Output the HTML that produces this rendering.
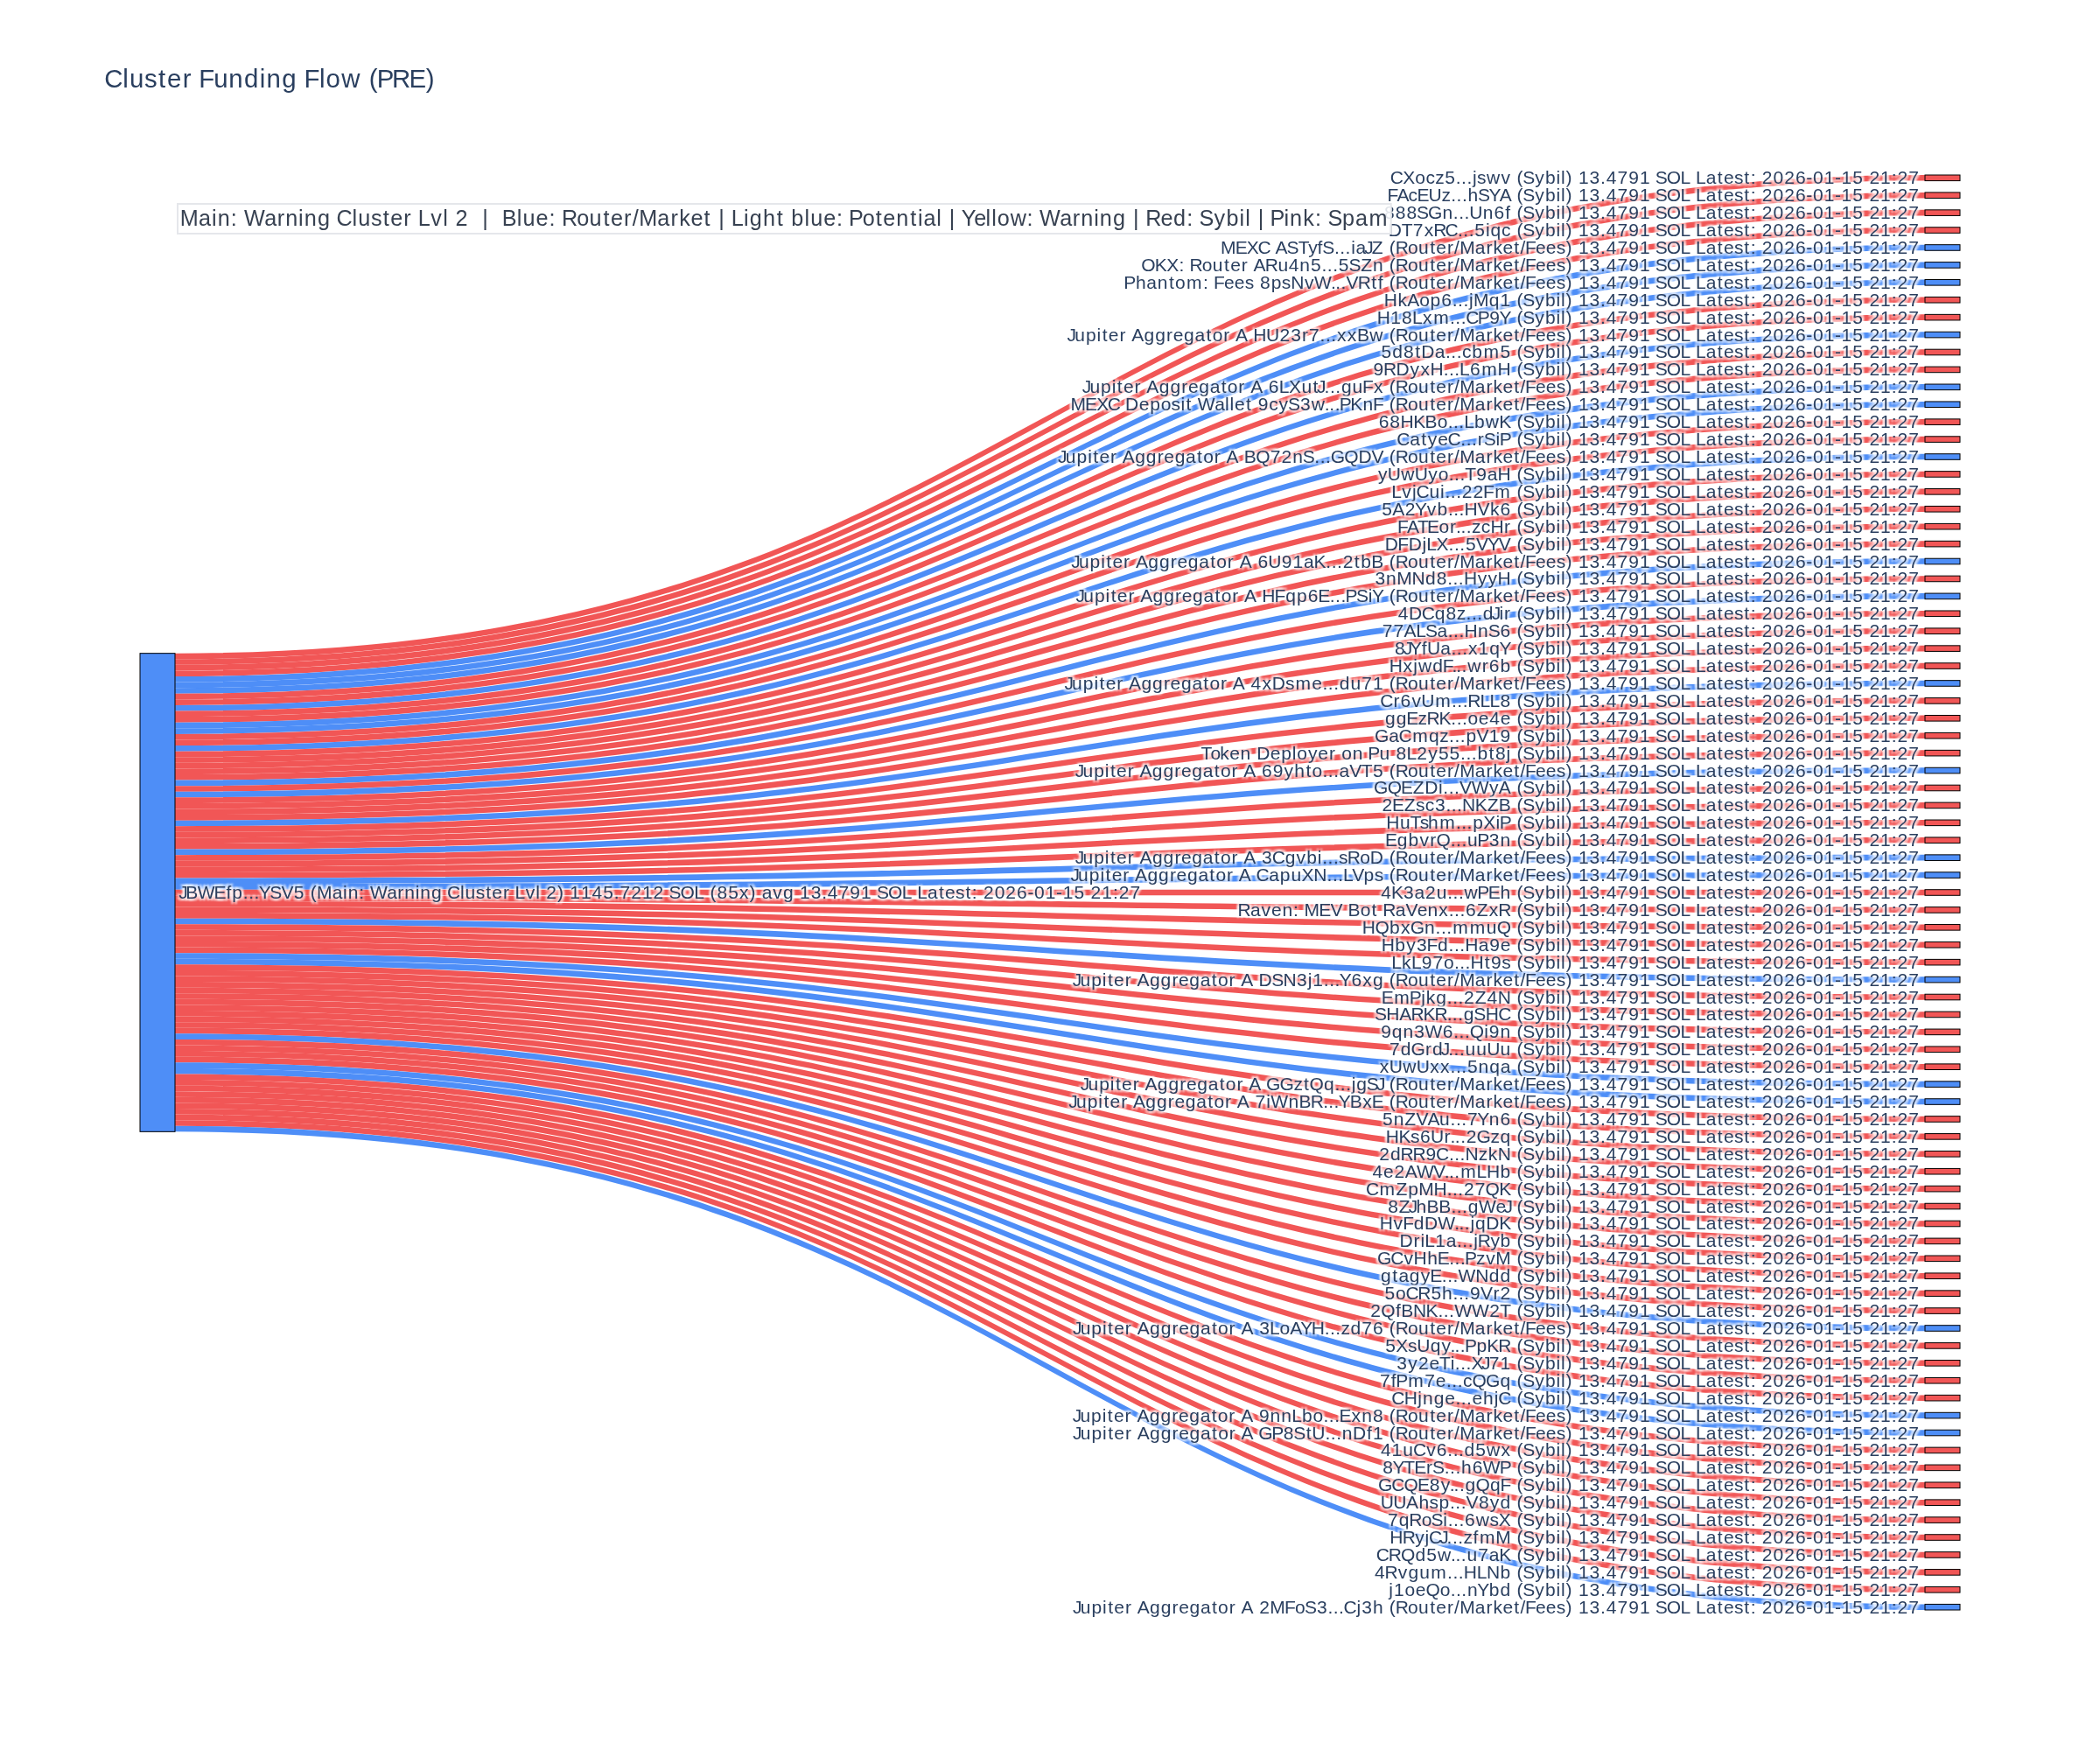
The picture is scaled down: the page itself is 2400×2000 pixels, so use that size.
<!DOCTYPE html>
<html><head><meta charset="utf-8"><title>Cluster Funding Flow (PRE)</title>
<style>
html,body{margin:0;padding:0;background:#fff}
svg{display:block}
text{font-family:"Liberation Sans",sans-serif;white-space:pre}
.nl{filter:url(#sh)}
.lk path{stroke:none}
.nd rect{stroke:#000;stroke-width:0.5}
.ga{opacity:0.999}
</style></head>
<body>
<svg width="2400" height="2000" viewBox="0 0 1200 1000">
<rect x="0" y="0" width="1200" height="1000" fill="#fff"/>
<defs><filter id="sh" x="-2%" y="-45%" width="104%" height="190%" color-interpolation-filters="sRGB"><feGaussianBlur in="SourceAlpha" stdDeviation="0.5" result="b"/><feOffset in="b" dx="1" dy="1" result="o1"/><feOffset in="b" dx="-1" dy="-1" result="o2"/><feOffset in="b" dx="1" dy="-1" result="o3"/><feOffset in="b" dx="-1" dy="1" result="o4"/><feMerge result="m"><feMergeNode in="o4"/><feMergeNode in="o3"/><feMergeNode in="o2"/><feMergeNode in="o1"/></feMerge><feFlood flood-color="#fff" result="w"/><feComposite in="w" in2="m" operator="in" result="s"/><feMerge><feMergeNode in="s"/><feMergeNode in="SourceGraphic"/></feMerge></filter></defs>
<g transform="translate(80,100)">
<g class="lk">
<path d="M20,273.333C520,273.333 520,0 1020,0L1020,3.293C520,3.293 520,276.627 20,276.627Z" fill="rgba(239,68,68,0.9)"/>
<path d="M20,276.627C520,276.627 520,9.96 1020,9.96L1020,13.253C520,13.253 520,279.92 20,279.92Z" fill="rgba(239,68,68,0.9)"/>
<path d="M20,279.92C520,279.92 520,19.92 1020,19.92L1020,23.213C520,23.213 520,283.213 20,283.213Z" fill="rgba(239,68,68,0.9)"/>
<path d="M20,283.213C520,283.213 520,29.88 1020,29.88L1020,33.173C520,33.173 520,286.506 20,286.506Z" fill="rgba(239,68,68,0.9)"/>
<path d="M20,286.506C520,286.506 520,39.839 1020,39.839L1020,43.133C520,43.133 520,289.799 20,289.799Z" fill="rgba(59,130,246,0.9)"/>
<path d="M20,289.799C520,289.799 520,49.799 1020,49.799L1020,53.092C520,53.092 520,293.092 20,293.092Z" fill="rgba(59,130,246,0.9)"/>
<path d="M20,293.092C520,293.092 520,59.759 1020,59.759L1020,63.052C520,63.052 520,296.386 20,296.386Z" fill="rgba(59,130,246,0.9)"/>
<path d="M20,296.386C520,296.386 520,69.719 1020,69.719L1020,73.012C520,73.012 520,299.679 20,299.679Z" fill="rgba(239,68,68,0.9)"/>
<path d="M20,299.679C520,299.679 520,79.679 1020,79.679L1020,82.972C520,82.972 520,302.972 20,302.972Z" fill="rgba(239,68,68,0.9)"/>
<path d="M20,302.972C520,302.972 520,89.639 1020,89.639L1020,92.932C520,92.932 520,306.265 20,306.265Z" fill="rgba(59,130,246,0.9)"/>
<path d="M20,306.265C520,306.265 520,99.598 1020,99.598L1020,102.892C520,102.892 520,309.558 20,309.558Z" fill="rgba(239,68,68,0.9)"/>
<path d="M20,309.558C520,309.558 520,109.558 1020,109.558L1020,112.851C520,112.851 520,312.851 20,312.851Z" fill="rgba(239,68,68,0.9)"/>
<path d="M20,312.851C520,312.851 520,119.518 1020,119.518L1020,122.811C520,122.811 520,316.145 20,316.145Z" fill="rgba(59,130,246,0.9)"/>
<path d="M20,316.145C520,316.145 520,129.478 1020,129.478L1020,132.771C520,132.771 520,319.438 20,319.438Z" fill="rgba(59,130,246,0.9)"/>
<path d="M20,319.438C520,319.438 520,139.438 1020,139.438L1020,142.731C520,142.731 520,322.731 20,322.731Z" fill="rgba(239,68,68,0.9)"/>
<path d="M20,322.731C520,322.731 520,149.398 1020,149.398L1020,152.691C520,152.691 520,326.024 20,326.024Z" fill="rgba(239,68,68,0.9)"/>
<path d="M20,326.024C520,326.024 520,159.357 1020,159.357L1020,162.651C520,162.651 520,329.317 20,329.317Z" fill="rgba(59,130,246,0.9)"/>
<path d="M20,329.317C520,329.317 520,169.317 1020,169.317L1020,172.61C520,172.61 520,332.61 20,332.61Z" fill="rgba(239,68,68,0.9)"/>
<path d="M20,332.61C520,332.61 520,179.277 1020,179.277L1020,182.57C520,182.57 520,335.904 20,335.904Z" fill="rgba(239,68,68,0.9)"/>
<path d="M20,335.904C520,335.904 520,189.237 1020,189.237L1020,192.53C520,192.53 520,339.197 20,339.197Z" fill="rgba(239,68,68,0.9)"/>
<path d="M20,339.197C520,339.197 520,199.197 1020,199.197L1020,202.49C520,202.49 520,342.49 20,342.49Z" fill="rgba(239,68,68,0.9)"/>
<path d="M20,342.49C520,342.49 520,209.157 1020,209.157L1020,212.45C520,212.45 520,345.783 20,345.783Z" fill="rgba(239,68,68,0.9)"/>
<path d="M20,345.783C520,345.783 520,219.116 1020,219.116L1020,222.41C520,222.41 520,349.076 20,349.076Z" fill="rgba(59,130,246,0.9)"/>
<path d="M20,349.076C520,349.076 520,229.076 1020,229.076L1020,232.369C520,232.369 520,352.369 20,352.369Z" fill="rgba(239,68,68,0.9)"/>
<path d="M20,352.369C520,352.369 520,239.036 1020,239.036L1020,242.329C520,242.329 520,355.663 20,355.663Z" fill="rgba(59,130,246,0.9)"/>
<path d="M20,355.663C520,355.663 520,248.996 1020,248.996L1020,252.289C520,252.289 520,358.956 20,358.956Z" fill="rgba(239,68,68,0.9)"/>
<path d="M20,358.956C520,358.956 520,258.956 1020,258.956L1020,262.249C520,262.249 520,362.249 20,362.249Z" fill="rgba(239,68,68,0.9)"/>
<path d="M20,362.249C520,362.249 520,268.916 1020,268.916L1020,272.209C520,272.209 520,365.542 20,365.542Z" fill="rgba(239,68,68,0.9)"/>
<path d="M20,365.542C520,365.542 520,278.876 1020,278.876L1020,282.169C520,282.169 520,368.835 20,368.835Z" fill="rgba(239,68,68,0.9)"/>
<path d="M20,368.835C520,368.835 520,288.835 1020,288.835L1020,292.129C520,292.129 520,372.129 20,372.129Z" fill="rgba(59,130,246,0.9)"/>
<path d="M20,372.129C520,372.129 520,298.795 1020,298.795L1020,302.088C520,302.088 520,375.422 20,375.422Z" fill="rgba(239,68,68,0.9)"/>
<path d="M20,375.422C520,375.422 520,308.755 1020,308.755L1020,312.048C520,312.048 520,378.715 20,378.715Z" fill="rgba(239,68,68,0.9)"/>
<path d="M20,378.715C520,378.715 520,318.715 1020,318.715L1020,322.008C520,322.008 520,382.008 20,382.008Z" fill="rgba(239,68,68,0.9)"/>
<path d="M20,382.008C520,382.008 520,328.675 1020,328.675L1020,331.968C520,331.968 520,385.301 20,385.301Z" fill="rgba(239,68,68,0.9)"/>
<path d="M20,385.301C520,385.301 520,338.635 1020,338.635L1020,341.928C520,341.928 520,388.594 20,388.594Z" fill="rgba(59,130,246,0.9)"/>
<path d="M20,388.594C520,388.594 520,348.594 1020,348.594L1020,351.888C520,351.888 520,391.888 20,391.888Z" fill="rgba(239,68,68,0.9)"/>
<path d="M20,391.888C520,391.888 520,358.554 1020,358.554L1020,361.847C520,361.847 520,395.181 20,395.181Z" fill="rgba(239,68,68,0.9)"/>
<path d="M20,395.181C520,395.181 520,368.514 1020,368.514L1020,371.807C520,371.807 520,398.474 20,398.474Z" fill="rgba(239,68,68,0.9)"/>
<path d="M20,398.474C520,398.474 520,378.474 1020,378.474L1020,381.767C520,381.767 520,401.767 20,401.767Z" fill="rgba(239,68,68,0.9)"/>
<path d="M20,401.767C520,401.767 520,388.434 1020,388.434L1020,391.727C520,391.727 520,405.06 20,405.06Z" fill="rgba(59,130,246,0.9)"/>
<path d="M20,405.06C520,405.06 520,398.394 1020,398.394L1020,401.687C520,401.687 520,408.353 20,408.353Z" fill="rgba(59,130,246,0.9)"/>
<path d="M20,408.353C520,408.353 520,408.353 1020,408.353L1020,411.647C520,411.647 520,411.647 20,411.647Z" fill="rgba(239,68,68,0.9)"/>
<path d="M20,411.647C520,411.647 520,418.313 1020,418.313L1020,421.606C520,421.606 520,414.94 20,414.94Z" fill="rgba(239,68,68,0.9)"/>
<path d="M20,414.94C520,414.94 520,428.273 1020,428.273L1020,431.566C520,431.566 520,418.233 20,418.233Z" fill="rgba(239,68,68,0.9)"/>
<path d="M20,418.233C520,418.233 520,438.233 1020,438.233L1020,441.526C520,441.526 520,421.526 20,421.526Z" fill="rgba(239,68,68,0.9)"/>
<path d="M20,421.526C520,421.526 520,448.193 1020,448.193L1020,451.486C520,451.486 520,424.819 20,424.819Z" fill="rgba(239,68,68,0.9)"/>
<path d="M20,424.819C520,424.819 520,458.153 1020,458.153L1020,461.446C520,461.446 520,428.112 20,428.112Z" fill="rgba(59,130,246,0.9)"/>
<path d="M20,428.112C520,428.112 520,468.112 1020,468.112L1020,471.406C520,471.406 520,431.406 20,431.406Z" fill="rgba(239,68,68,0.9)"/>
<path d="M20,431.406C520,431.406 520,478.072 1020,478.072L1020,481.365C520,481.365 520,434.699 20,434.699Z" fill="rgba(239,68,68,0.9)"/>
<path d="M20,434.699C520,434.699 520,488.032 1020,488.032L1020,491.325C520,491.325 520,437.992 20,437.992Z" fill="rgba(239,68,68,0.9)"/>
<path d="M20,437.992C520,437.992 520,497.992 1020,497.992L1020,501.285C520,501.285 520,441.285 20,441.285Z" fill="rgba(239,68,68,0.9)"/>
<path d="M20,441.285C520,441.285 520,507.952 1020,507.952L1020,511.245C520,511.245 520,444.578 20,444.578Z" fill="rgba(239,68,68,0.9)"/>
<path d="M20,444.578C520,444.578 520,517.912 1020,517.912L1020,521.205C520,521.205 520,447.871 20,447.871Z" fill="rgba(59,130,246,0.9)"/>
<path d="M20,447.871C520,447.871 520,527.871 1020,527.871L1020,531.165C520,531.165 520,451.165 20,451.165Z" fill="rgba(59,130,246,0.9)"/>
<path d="M20,451.165C520,451.165 520,537.831 1020,537.831L1020,541.124C520,541.124 520,454.458 20,454.458Z" fill="rgba(239,68,68,0.9)"/>
<path d="M20,454.458C520,454.458 520,547.791 1020,547.791L1020,551.084C520,551.084 520,457.751 20,457.751Z" fill="rgba(239,68,68,0.9)"/>
<path d="M20,457.751C520,457.751 520,557.751 1020,557.751L1020,561.044C520,561.044 520,461.044 20,461.044Z" fill="rgba(239,68,68,0.9)"/>
<path d="M20,461.044C520,461.044 520,567.711 1020,567.711L1020,571.004C520,571.004 520,464.337 20,464.337Z" fill="rgba(239,68,68,0.9)"/>
<path d="M20,464.337C520,464.337 520,577.671 1020,577.671L1020,580.964C520,580.964 520,467.631 20,467.631Z" fill="rgba(239,68,68,0.9)"/>
<path d="M20,467.631C520,467.631 520,587.631 1020,587.631L1020,590.924C520,590.924 520,470.924 20,470.924Z" fill="rgba(239,68,68,0.9)"/>
<path d="M20,470.924C520,470.924 520,597.59 1020,597.59L1020,600.884C520,600.884 520,474.217 20,474.217Z" fill="rgba(239,68,68,0.9)"/>
<path d="M20,474.217C520,474.217 520,607.55 1020,607.55L1020,610.843C520,610.843 520,477.51 20,477.51Z" fill="rgba(239,68,68,0.9)"/>
<path d="M20,477.51C520,477.51 520,617.51 1020,617.51L1020,620.803C520,620.803 520,480.803 20,480.803Z" fill="rgba(239,68,68,0.9)"/>
<path d="M20,480.803C520,480.803 520,627.47 1020,627.47L1020,630.763C520,630.763 520,484.096 20,484.096Z" fill="rgba(239,68,68,0.9)"/>
<path d="M20,484.096C520,484.096 520,637.43 1020,637.43L1020,640.723C520,640.723 520,487.39 20,487.39Z" fill="rgba(239,68,68,0.9)"/>
<path d="M20,487.39C520,487.39 520,647.39 1020,647.39L1020,650.683C520,650.683 520,490.683 20,490.683Z" fill="rgba(239,68,68,0.9)"/>
<path d="M20,490.683C520,490.683 520,657.349 1020,657.349L1020,660.643C520,660.643 520,493.976 20,493.976Z" fill="rgba(59,130,246,0.9)"/>
<path d="M20,493.976C520,493.976 520,667.309 1020,667.309L1020,670.602C520,670.602 520,497.269 20,497.269Z" fill="rgba(239,68,68,0.9)"/>
<path d="M20,497.269C520,497.269 520,677.269 1020,677.269L1020,680.562C520,680.562 520,500.562 20,500.562Z" fill="rgba(239,68,68,0.9)"/>
<path d="M20,500.562C520,500.562 520,687.229 1020,687.229L1020,690.522C520,690.522 520,503.855 20,503.855Z" fill="rgba(239,68,68,0.9)"/>
<path d="M20,503.855C520,503.855 520,697.189 1020,697.189L1020,700.482C520,700.482 520,507.149 20,507.149Z" fill="rgba(239,68,68,0.9)"/>
<path d="M20,507.149C520,507.149 520,707.149 1020,707.149L1020,710.442C520,710.442 520,510.442 20,510.442Z" fill="rgba(59,130,246,0.9)"/>
<path d="M20,510.442C520,510.442 520,717.108 1020,717.108L1020,720.402C520,720.402 520,513.735 20,513.735Z" fill="rgba(59,130,246,0.9)"/>
<path d="M20,513.735C520,513.735 520,727.068 1020,727.068L1020,730.361C520,730.361 520,517.028 20,517.028Z" fill="rgba(239,68,68,0.9)"/>
<path d="M20,517.028C520,517.028 520,737.028 1020,737.028L1020,740.321C520,740.321 520,520.321 20,520.321Z" fill="rgba(239,68,68,0.9)"/>
<path d="M20,520.321C520,520.321 520,746.988 1020,746.988L1020,750.281C520,750.281 520,523.614 20,523.614Z" fill="rgba(239,68,68,0.9)"/>
<path d="M20,523.614C520,523.614 520,756.948 1020,756.948L1020,760.241C520,760.241 520,526.908 20,526.908Z" fill="rgba(239,68,68,0.9)"/>
<path d="M20,526.908C520,526.908 520,766.908 1020,766.908L1020,770.201C520,770.201 520,530.201 20,530.201Z" fill="rgba(239,68,68,0.9)"/>
<path d="M20,530.201C520,530.201 520,776.867 1020,776.867L1020,780.161C520,780.161 520,533.494 20,533.494Z" fill="rgba(239,68,68,0.9)"/>
<path d="M20,533.494C520,533.494 520,786.827 1020,786.827L1020,790.12C520,790.12 520,536.787 20,536.787Z" fill="rgba(239,68,68,0.9)"/>
<path d="M20,536.787C520,536.787 520,796.787 1020,796.787L1020,800.08C520,800.08 520,540.08 20,540.08Z" fill="rgba(239,68,68,0.9)"/>
<path d="M20,540.08C520,540.08 520,806.747 1020,806.747L1020,810.04C520,810.04 520,543.373 20,543.373Z" fill="rgba(239,68,68,0.9)"/>
<path d="M20,543.373C520,543.373 520,816.707 1020,816.707L1020,820C520,820 520,546.667 20,546.667Z" fill="rgba(59,130,246,0.9)"/>
</g>
<g class="nd">
<rect x="0" y="273.333" width="20" height="273.333" fill="rgba(59,130,246,0.9)"/>
<text class="nl" x="22.1 26.13 32.87 42.25 49.21 52.68 58.91 62.09 65.27 67.87 74.09 80.69 87.87 94.1 97.35 100.99 109.82 116.03 118.84 125.15 128.42 131.46 141.18 147.16 151.12 157.34 160.15 166.49 172.72 175.46 182.97 185.77 191.84 197.58 201.15 207.45 211.39 214.3 220.34 226.15 228.83 232.14 238.45 242.28 245.59 251.95 258.31 264.67 270.91 274.21 280.58 286.94 293.3 299.53 302.25 308.78 316.67 322.5 325.75 329.71 336.07 342.51 348.3 352.13 355.32 361.64 367.47 373.7 377.01 383.37 389.6 392.91 399.27 405.64 412 418.23 420.95 427.48 435.36 441.2 444.11 449.96 456.45 460.02 466 471.73 475.38 478.65 481.96 488.32 494.68 501.05 507.2 511.02 517.38 523.54 527.35 533.71 539.94 543.25 549.61 555.94 559.35 565.71" y="413.5" font-size="10.5" fill="#2a3f5f">JBWEfp...YSV5 (Main: Warning Cluster Lvl 2) 1145.7212 SOL (85x) avg 13.4791 SOL Latest: 2026-01-15 21:27</text>
<rect x="1020" y="0" width="20" height="3.293" fill="rgba(239,68,68,0.9)"/>
<text class="nl" x="714.37 721.58 728.65 734.75 740.12 745.63 751.87 755.04 758.22 761.49 764.03 769.56 777.77 783.49 786.74 790.11 797.12 802.96 809.27 812.05 814.81 818.64 821.95 828.31 834.54 837.85 844.21 850.58 856.94 863.17 865.89 872.42 880.3 886.14 889.05 894.9 901.39 904.96 910.94 916.67 920.32 923.59 926.9 933.26 939.62 945.99 952.14 955.96 962.32 968.48 972.29 978.65 984.88 988.19 994.56 1000.88 1004.29 1010.65" y="5.15" font-size="10.5" fill="#2a3f5f">CXocz5...jswv (Sybil) 13.4791 SOL Latest: 2026-01-15 21:27</text>
<rect x="1020" y="9.96" width="20" height="3.293" fill="rgba(239,68,68,0.9)"/>
<text class="nl" x="712.75 718.29 724.79 729.73 736.26 743.71 749.09 752.27 755.45 758.75 764.51 770.74 776.82 783.49 786.74 790.11 797.12 802.96 809.27 812.05 814.81 818.64 821.95 828.31 834.54 837.85 844.21 850.58 856.94 863.17 865.89 872.42 880.3 886.14 889.05 894.9 901.39 904.96 910.94 916.67 920.32 923.59 926.9 933.26 939.62 945.99 952.14 955.96 962.32 968.48 972.29 978.65 984.88 988.19 994.56 1000.88 1004.29 1010.65" y="15.11" font-size="10.5" fill="#2a3f5f">FAcEUz...hSYA (Sybil) 13.4791 SOL Latest: 2026-01-15 21:27</text>
<rect x="1020" y="19.92" width="20" height="3.293" fill="rgba(239,68,68,0.9)"/>
<text class="nl" x="711.02 717.38 723.74 729.52 735.98 744.19 750.41 753.59 756.77 759.68 767.38 773.73 780.14 783.49 786.74 790.11 797.12 802.96 809.27 812.05 814.81 818.64 821.95 828.31 834.54 837.85 844.21 850.58 856.94 863.17 865.89 872.42 880.3 886.14 889.05 894.9 901.39 904.96 910.94 916.67 920.32 923.59 926.9 933.26 939.62 945.99 952.14 955.96 962.32 968.48 972.29 978.65 984.88 988.19 994.56 1000.88 1004.29 1010.65" y="25.07" font-size="10.5" fill="#2a3f5f">888SGn...Un6f (Sybil) 13.4791 SOL Latest: 2026-01-15 21:27</text>
<rect x="1020" y="29.88" width="20" height="3.293" fill="rgba(239,68,68,0.9)"/>
<text class="nl" x="713.37 720.86 727.38 733.82 739.08 745.8 752.96 756.14 759.32 762.63 768.96 771.76 777.98 783.49 786.74 790.11 797.12 802.96 809.27 812.05 814.81 818.64 821.95 828.31 834.54 837.85 844.21 850.58 856.94 863.17 865.89 872.42 880.3 886.14 889.05 894.9 901.39 904.96 910.94 916.67 920.32 923.59 926.9 933.26 939.62 945.99 952.14 955.96 962.32 968.48 972.29 978.65 984.88 988.19 994.56 1000.88 1004.29 1010.65" y="35.03" font-size="10.5" fill="#2a3f5f">DT7xRC...5iqc (Sybil) 13.4791 SOL Latest: 2026-01-15 21:27</text>
<rect x="1020" y="39.839" width="20" height="3.293" fill="rgba(59,130,246,0.9)"/>
<text class="nl" x="617.5 625.84 632.43 638.69 645.74 648.7 655.3 661.82 667.64 672.74 675.64 682.44 685.62 688.8 692.07 694.77 699.6 703.92 710.68 713.93 717.32 724.5 730.5 737.09 740.67 746.97 751 754.08 762.91 769.21 773.28 778.78 785.1 788.74 791.56 797.52 803.4 809.38 814.81 818.64 821.95 828.31 834.54 837.85 844.21 850.58 856.94 863.17 865.89 872.42 880.3 886.14 889.05 894.9 901.39 904.96 910.94 916.67 920.32 923.59 926.9 933.26 939.62 945.99 952.14 955.96 962.32 968.48 972.29 978.65 984.88 988.19 994.56 1000.88 1004.29 1010.65" y="44.99" font-size="10.5" fill="#2a3f5f">MEXC ASTyfS...iaJZ (Router/Market/Fees) 13.4791 SOL Latest: 2026-01-15 21:27</text>
<rect x="1020" y="49.799" width="20" height="3.293" fill="rgba(59,130,246,0.9)"/>
<text class="nl" x="572.09 579.88 586.59 593.74 597.01 599.74 606.92 612.93 619.52 623.09 629.4 633.33 636.3 642.9 650.19 656.32 662.67 669.02 675.25 678.43 681.61 684.92 690.69 697.58 704.46 710.68 713.93 717.32 724.5 730.5 737.09 740.67 746.97 751 754.08 762.91 769.21 773.28 778.78 785.1 788.74 791.56 797.52 803.4 809.38 814.81 818.64 821.95 828.31 834.54 837.85 844.21 850.58 856.94 863.17 865.89 872.42 880.3 886.14 889.05 894.9 901.39 904.96 910.94 916.67 920.32 923.59 926.9 933.26 939.62 945.99 952.14 955.96 962.32 968.48 972.29 978.65 984.88 988.19 994.56 1000.88 1004.29 1010.65" y="54.95" font-size="10.5" fill="#2a3f5f">OKX: Router ARu4n5...5SZn (Router/Market/Fees) 13.4791 SOL Latest: 2026-01-15 21:27</text>
<rect x="1020" y="59.759" width="20" height="3.293" fill="rgba(59,130,246,0.9)"/>
<text class="nl" x="562.18 568.95 575.18 581.41 588 591.56 598.04 607.51 610.78 613.5 619.46 625.34 631.32 636.68 639.99 646.34 652.42 657.6 665.46 671.04 680.49 683.1 686.28 689.24 695.85 703.61 707.33 710.68 713.93 717.32 724.5 730.5 737.09 740.67 746.97 751 754.08 762.91 769.21 773.28 778.78 785.1 788.74 791.56 797.52 803.4 809.38 814.81 818.64 821.95 828.31 834.54 837.85 844.21 850.58 856.94 863.17 865.89 872.42 880.3 886.14 889.05 894.9 901.39 904.96 910.94 916.67 920.32 923.59 926.9 933.26 939.62 945.99 952.14 955.96 962.32 968.48 972.29 978.65 984.88 988.19 994.56 1000.88 1004.29 1010.65" y="64.91" font-size="10.5" fill="#2a3f5f">Phantom: Fees 8psNvW...VRtf (Router/Market/Fees) 13.4791 SOL Latest: 2026-01-15 21:27</text>
<rect x="1020" y="69.719" width="20" height="3.293" fill="rgba(239,68,68,0.9)"/>
<text class="nl" x="710.87 718.69 724.13 731.1 737.25 743.6 749.83 753.01 756.19 759.46 761.96 770.9 777.26 783.49 786.74 790.11 797.12 802.96 809.27 812.05 814.81 818.64 821.95 828.31 834.54 837.85 844.21 850.58 856.94 863.17 865.89 872.42 880.3 886.14 889.05 894.9 901.39 904.96 910.94 916.67 920.32 923.59 926.9 933.26 939.62 945.99 952.14 955.96 962.32 968.48 972.29 978.65 984.88 988.19 994.56 1000.88 1004.29 1010.65" y="74.87" font-size="10.5" fill="#2a3f5f">HkAop6...jMq1 (Sybil) 13.4791 SOL Latest: 2026-01-15 21:27</text>
<rect x="1020" y="79.679" width="20" height="3.293" fill="rgba(239,68,68,0.9)"/>
<text class="nl" x="706.83 714.64 721.01 726.97 733.01 739.09 748.47 751.65 754.83 757.57 764.37 771.15 776.8 783.49 786.74 790.11 797.12 802.96 809.27 812.05 814.81 818.64 821.95 828.31 834.54 837.85 844.21 850.58 856.94 863.17 865.89 872.42 880.3 886.14 889.05 894.9 901.39 904.96 910.94 916.67 920.32 923.59 926.9 933.26 939.62 945.99 952.14 955.96 962.32 968.48 972.29 978.65 984.88 988.19 994.56 1000.88 1004.29 1010.65" y="84.83" font-size="10.5" fill="#2a3f5f">H18Lxm...CP9Y (Sybil) 13.4791 SOL Latest: 2026-01-15 21:27</text>
<rect x="1020" y="89.639" width="20" height="3.293" fill="rgba(59,130,246,0.9)"/>
<text class="nl" x="529.77 534.12 540.47 546.78 549.84 553.42 559.72 563.65 566.62 573.8 580.14 586.54 590.4 596.54 602.77 609.26 612.82 619.1 623.04 626 633.06 636.07 643.49 651.21 657.57 663.98 668.04 674.27 677.45 680.63 684.01 689.93 695.44 702.67 710.68 713.93 717.32 724.5 730.5 737.09 740.67 746.97 751 754.08 762.91 769.21 773.28 778.78 785.1 788.74 791.56 797.52 803.4 809.38 814.81 818.64 821.95 828.31 834.54 837.85 844.21 850.58 856.94 863.17 865.89 872.42 880.3 886.14 889.05 894.9 901.39 904.96 910.94 916.67 920.32 923.59 926.9 933.26 939.62 945.99 952.14 955.96 962.32 968.48 972.29 978.65 984.88 988.19 994.56 1000.88 1004.29 1010.65" y="94.79" font-size="10.5" fill="#2a3f5f">Jupiter Aggregator A HU23r7...xxBw (Router/Market/Fees) 13.4791 SOL Latest: 2026-01-15 21:27</text>
<rect x="1020" y="99.598" width="20" height="3.293" fill="rgba(239,68,68,0.9)"/>
<text class="nl" x="709.31 715.67 722.02 728.62 732.1 739.89 746 749.18 752.36 755.53 761.16 767.75 777.26 783.49 786.74 790.11 797.12 802.96 809.27 812.05 814.81 818.64 821.95 828.31 834.54 837.85 844.21 850.58 856.94 863.17 865.89 872.42 880.3 886.14 889.05 894.9 901.39 904.96 910.94 916.67 920.32 923.59 926.9 933.26 939.62 945.99 952.14 955.96 962.32 968.48 972.29 978.65 984.88 988.19 994.56 1000.88 1004.29 1010.65" y="104.74" font-size="10.5" fill="#2a3f5f">5d8tDa...cbm5 (Sybil) 13.4791 SOL Latest: 2026-01-15 21:27</text>
<rect x="1020" y="109.558" width="20" height="3.293" fill="rgba(239,68,68,0.9)"/>
<text class="nl" x="704.7 710.48 717.8 725.78 731.7 737.25 744.84 747.94 751.11 754.03 759.99 766.59 775.81 783.49 786.74 790.11 797.12 802.96 809.27 812.05 814.81 818.64 821.95 828.31 834.54 837.85 844.21 850.58 856.94 863.17 865.89 872.42 880.3 886.14 889.05 894.9 901.39 904.96 910.94 916.67 920.32 923.59 926.9 933.26 939.62 945.99 952.14 955.96 962.32 968.48 972.29 978.65 984.88 988.19 994.56 1000.88 1004.29 1010.65" y="114.7" font-size="10.5" fill="#2a3f5f">9RDyxH...L6mH (Sybil) 13.4791 SOL Latest: 2026-01-15 21:27</text>
<rect x="1020" y="119.518" width="20" height="3.293" fill="rgba(59,130,246,0.9)"/>
<text class="nl" x="538.34 542.69 549.03 555.35 558.4 561.98 568.28 572.22 575.18 582.36 588.71 595.11 598.96 605.1 611.34 617.82 621.38 627.67 631.6 634.57 641.62 644.93 650.9 656.53 663.7 670.29 672.56 676.79 679.97 683.15 686.45 692.8 698.55 704.97 710.68 713.93 717.32 724.5 730.5 737.09 740.67 746.97 751 754.08 762.91 769.21 773.28 778.78 785.1 788.74 791.56 797.52 803.4 809.38 814.81 818.64 821.95 828.31 834.54 837.85 844.21 850.58 856.94 863.17 865.89 872.42 880.3 886.14 889.05 894.9 901.39 904.96 910.94 916.67 920.32 923.59 926.9 933.26 939.62 945.99 952.14 955.96 962.32 968.48 972.29 978.65 984.88 988.19 994.56 1000.88 1004.29 1010.65" y="124.66" font-size="10.5" fill="#2a3f5f">Jupiter Aggregator A 6LXutJ...guFx (Router/Market/Fees) 13.4791 SOL Latest: 2026-01-15 21:27</text>
<rect x="1020" y="129.478" width="20" height="3.293" fill="rgba(59,130,246,0.9)"/>
<text class="nl" x="531.71 540.05 546.64 552.9 559.95 563.06 570.86 577.11 583.34 589.3 594.75 597.81 601.36 604.39 614.12 620.01 622.78 625.5 631.99 635.54 638.85 645.08 650.79 656.04 662.98 669.38 676.93 679.65 682.83 685.39 691.68 698.71 704.47 710.68 713.93 717.32 724.5 730.5 737.09 740.67 746.97 751 754.08 762.91 769.21 773.28 778.78 785.1 788.74 791.56 797.52 803.4 809.38 814.81 818.64 821.95 828.31 834.54 837.85 844.21 850.58 856.94 863.17 865.89 872.42 880.3 886.14 889.05 894.9 901.39 904.96 910.94 916.67 920.32 923.59 926.9 933.26 939.62 945.99 952.14 955.96 962.32 968.48 972.29 978.65 984.88 988.19 994.56 1000.88 1004.29 1010.65" y="134.62" font-size="10.5" fill="#2a3f5f">MEXC Deposit Wallet 9cyS3w...PKnF (Router/Market/Fees) 13.4791 SOL Latest: 2026-01-15 21:27</text>
<rect x="1020" y="139.438" width="20" height="3.293" fill="rgba(239,68,68,0.9)"/>
<text class="nl" x="707.82 714.18 720.25 727.58 734.29 741.36 747.38 750.47 753.65 756.57 762.53 768.92 776.58 783.49 786.74 790.11 797.12 802.96 809.27 812.05 814.81 818.64 821.95 828.31 834.54 837.85 844.21 850.58 856.94 863.17 865.89 872.42 880.3 886.14 889.05 894.9 901.39 904.96 910.94 916.67 920.32 923.59 926.9 933.26 939.62 945.99 952.14 955.96 962.32 968.48 972.29 978.65 984.88 988.19 994.56 1000.88 1004.29 1010.65" y="144.58" font-size="10.5" fill="#2a3f5f">68HKBo...LbwK (Sybil) 13.4791 SOL Latest: 2026-01-15 21:27</text>
<rect x="1020" y="149.398" width="20" height="3.293" fill="rgba(239,68,68,0.9)"/>
<text class="nl" x="718.17 725.6 732.08 735.83 741.57 747.27 754.68 757.86 761.04 764.4 767.87 774.77 776.84 783.49 786.74 790.11 797.12 802.96 809.27 812.05 814.81 818.64 821.95 828.31 834.54 837.85 844.21 850.58 856.94 863.17 865.89 872.42 880.3 886.14 889.05 894.9 901.39 904.96 910.94 916.67 920.32 923.59 926.9 933.26 939.62 945.99 952.14 955.96 962.32 968.48 972.29 978.65 984.88 988.19 994.56 1000.88 1004.29 1010.65" y="154.54" font-size="10.5" fill="#2a3f5f">CatyeC...rSiP (Sybil) 13.4791 SOL Latest: 2026-01-15 21:27</text>
<rect x="1020" y="159.357" width="20" height="3.293" fill="rgba(59,130,246,0.9)"/>
<text class="nl" x="524.56 528.91 535.25 541.57 544.62 548.2 554.5 558.44 561.41 568.58 574.93 581.33 585.18 591.32 597.56 604.04 607.6 613.89 617.82 620.79 627.84 630.82 637.6 645.88 652.25 658.6 664.36 671.16 674.34 677.52 680.36 688.17 696.25 703.72 710.68 713.93 717.32 724.5 730.5 737.09 740.67 746.97 751 754.08 762.91 769.21 773.28 778.78 785.1 788.74 791.56 797.52 803.4 809.38 814.81 818.64 821.95 828.31 834.54 837.85 844.21 850.58 856.94 863.17 865.89 872.42 880.3 886.14 889.05 894.9 901.39 904.96 910.94 916.67 920.32 923.59 926.9 933.26 939.62 945.99 952.14 955.96 962.32 968.48 972.29 978.65 984.88 988.19 994.56 1000.88 1004.29 1010.65" y="164.5" font-size="10.5" fill="#2a3f5f">Jupiter Aggregator A BQ72nS...GQDV (Router/Market/Fees) 13.4791 SOL Latest: 2026-01-15 21:27</text>
<rect x="1020" y="169.317" width="20" height="3.293" fill="rgba(239,68,68,0.9)"/>
<text class="nl" x="707.44 712.89 720.64 728.39 736.18 741.9 747.92 751.01 754.19 757.09 763.61 769.85 775.81 783.49 786.74 790.11 797.12 802.96 809.27 812.05 814.81 818.64 821.95 828.31 834.54 837.85 844.21 850.58 856.94 863.17 865.89 872.42 880.3 886.14 889.05 894.9 901.39 904.96 910.94 916.67 920.32 923.59 926.9 933.26 939.62 945.99 952.14 955.96 962.32 968.48 972.29 978.65 984.88 988.19 994.56 1000.88 1004.29 1010.65" y="174.46" font-size="10.5" fill="#2a3f5f">yUwUyo...T9aH (Sybil) 13.4791 SOL Latest: 2026-01-15 21:27</text>
<rect x="1020" y="179.277" width="20" height="3.293" fill="rgba(239,68,68,0.9)"/>
<text class="nl" x="715.1 721.14 726.95 729.2 736.74 743.05 745.73 748.91 752.09 755.4 761.76 767.53 774.11 783.49 786.74 790.11 797.12 802.96 809.27 812.05 814.81 818.64 821.95 828.31 834.54 837.85 844.21 850.58 856.94 863.17 865.89 872.42 880.3 886.14 889.05 894.9 901.39 904.96 910.94 916.67 920.32 923.59 926.9 933.26 939.62 945.99 952.14 955.96 962.32 968.48 972.29 978.65 984.88 988.19 994.56 1000.88 1004.29 1010.65" y="184.42" font-size="10.5" fill="#2a3f5f">LvjCui...22Fm (Sybil) 13.4791 SOL Latest: 2026-01-15 21:27</text>
<rect x="1020" y="189.237" width="20" height="3.293" fill="rgba(239,68,68,0.9)"/>
<text class="nl" x="709.63 715.65 722.83 728.49 735.38 741.21 747.44 750.62 753.79 756.81 764.28 771.47 777.26 783.49 786.74 790.11 797.12 802.96 809.27 812.05 814.81 818.64 821.95 828.31 834.54 837.85 844.21 850.58 856.94 863.17 865.89 872.42 880.3 886.14 889.05 894.9 901.39 904.96 910.94 916.67 920.32 923.59 926.9 933.26 939.62 945.99 952.14 955.96 962.32 968.48 972.29 978.65 984.88 988.19 994.56 1000.88 1004.29 1010.65" y="194.38" font-size="10.5" fill="#2a3f5f">5A2Yvb...HVk6 (Sybil) 13.4791 SOL Latest: 2026-01-15 21:27</text>
<rect x="1020" y="199.197" width="20" height="3.293" fill="rgba(239,68,68,0.9)"/>
<text class="nl" x="718.47 724.02 729.94 735.47 742.27 748.56 752.03 754.75 757.93 760.98 766.35 771.69 779.55 783.49 786.74 790.11 797.12 802.96 809.27 812.05 814.81 818.64 821.95 828.31 834.54 837.85 844.21 850.58 856.94 863.17 865.89 872.42 880.3 886.14 889.05 894.9 901.39 904.96 910.94 916.67 920.32 923.59 926.9 933.26 939.62 945.99 952.14 955.96 962.32 968.48 972.29 978.65 984.88 988.19 994.56 1000.88 1004.29 1010.65" y="204.34" font-size="10.5" fill="#2a3f5f">FATEor...zcHr (Sybil) 13.4791 SOL Latest: 2026-01-15 21:27</text>
<rect x="1020" y="209.157" width="20" height="3.293" fill="rgba(239,68,68,0.9)"/>
<text class="nl" x="711.37 718.68 724.83 732.69 735.11 740.74 747.8 750.98 754.16 757.47 763.49 769.96 776.43 783.49 786.74 790.11 797.12 802.96 809.27 812.05 814.81 818.64 821.95 828.31 834.54 837.85 844.21 850.58 856.94 863.17 865.89 872.42 880.3 886.14 889.05 894.9 901.39 904.96 910.94 916.67 920.32 923.59 926.9 933.26 939.62 945.99 952.14 955.96 962.32 968.48 972.29 978.65 984.88 988.19 994.56 1000.88 1004.29 1010.65" y="214.3" font-size="10.5" fill="#2a3f5f">DFDjLX...5VYV (Sybil) 13.4791 SOL Latest: 2026-01-15 21:27</text>
<rect x="1020" y="219.116" width="20" height="3.293" fill="rgba(59,130,246,0.9)"/>
<text class="nl" x="532.1 536.45 542.8 549.11 552.17 555.74 562.05 565.98 568.95 576.13 582.47 588.87 592.72 598.86 605.1 611.59 615.15 621.43 625.37 628.33 635.39 638.7 644.67 652.38 658.74 664.98 670.75 677.66 680.84 684.01 687.32 693.93 697.6 703.62 710.68 713.93 717.32 724.5 730.5 737.09 740.67 746.97 751 754.08 762.91 769.21 773.28 778.78 785.1 788.74 791.56 797.52 803.4 809.38 814.81 818.64 821.95 828.31 834.54 837.85 844.21 850.58 856.94 863.17 865.89 872.42 880.3 886.14 889.05 894.9 901.39 904.96 910.94 916.67 920.32 923.59 926.9 933.26 939.62 945.99 952.14 955.96 962.32 968.48 972.29 978.65 984.88 988.19 994.56 1000.88 1004.29 1010.65" y="224.26" font-size="10.5" fill="#2a3f5f">Jupiter Aggregator A 6U91aK...2tbB (Router/Market/Fees) 13.4791 SOL Latest: 2026-01-15 21:27</text>
<rect x="1020" y="229.076" width="20" height="3.293" fill="rgba(239,68,68,0.9)"/>
<text class="nl" x="705.69 712.04 718.07 726.7 734.49 740.84 747.08 750.25 753.43 756.45 764.33 770.25 775.81 783.49 786.74 790.11 797.12 802.96 809.27 812.05 814.81 818.64 821.95 828.31 834.54 837.85 844.21 850.58 856.94 863.17 865.89 872.42 880.3 886.14 889.05 894.9 901.39 904.96 910.94 916.67 920.32 923.59 926.9 933.26 939.62 945.99 952.14 955.96 962.32 968.48 972.29 978.65 984.88 988.19 994.56 1000.88 1004.29 1010.65" y="234.22" font-size="10.5" fill="#2a3f5f">3nMNd8...HyyH (Sybil) 13.4791 SOL Latest: 2026-01-15 21:27</text>
<rect x="1020" y="239.036" width="20" height="3.293" fill="rgba(59,130,246,0.9)"/>
<text class="nl" x="534.77 539.12 545.47 551.78 554.84 558.42 564.72 568.65 571.62 578.8 585.14 591.54 595.4 601.54 607.77 614.26 617.82 624.1 628.04 631 638.06 641.07 648.29 654.63 660.98 667.33 673.09 679.88 683.06 686.24 688.8 694.99 701.89 704 710.68 713.93 717.32 724.5 730.5 737.09 740.67 746.97 751 754.08 762.91 769.21 773.28 778.78 785.1 788.74 791.56 797.52 803.4 809.38 814.81 818.64 821.95 828.31 834.54 837.85 844.21 850.58 856.94 863.17 865.89 872.42 880.3 886.14 889.05 894.9 901.39 904.96 910.94 916.67 920.32 923.59 926.9 933.26 939.62 945.99 952.14 955.96 962.32 968.48 972.29 978.65 984.88 988.19 994.56 1000.88 1004.29 1010.65" y="244.18" font-size="10.5" fill="#2a3f5f">Jupiter Aggregator A HFqp6E...PSiY (Router/Market/Fees) 13.4791 SOL Latest: 2026-01-15 21:27</text>
<rect x="1020" y="248.996" width="20" height="3.293" fill="rgba(239,68,68,0.9)"/>
<text class="nl" x="718.89 725.05 732.39 739.93 746.28 752.38 757.76 760.94 764.12 767.42 772.37 776.69 779.55 783.49 786.74 790.11 797.12 802.96 809.27 812.05 814.81 818.64 821.95 828.31 834.54 837.85 844.21 850.58 856.94 863.17 865.89 872.42 880.3 886.14 889.05 894.9 901.39 904.96 910.94 916.67 920.32 923.59 926.9 933.26 939.62 945.99 952.14 955.96 962.32 968.48 972.29 978.65 984.88 988.19 994.56 1000.88 1004.29 1010.65" y="254.14" font-size="10.5" fill="#2a3f5f">4DCq8z...dJir (Sybil) 13.4791 SOL Latest: 2026-01-15 21:27</text>
<rect x="1020" y="258.956" width="20" height="3.293" fill="rgba(239,68,68,0.9)"/>
<text class="nl" x="709.9 716.26 722.28 729.07 734.45 741.27 747.38 750.56 753.74 756.76 764.56 770.32 777.26 783.49 786.74 790.11 797.12 802.96 809.27 812.05 814.81 818.64 821.95 828.31 834.54 837.85 844.21 850.58 856.94 863.17 865.89 872.42 880.3 886.14 889.05 894.9 901.39 904.96 910.94 916.67 920.32 923.59 926.9 933.26 939.62 945.99 952.14 955.96 962.32 968.48 972.29 978.65 984.88 988.19 994.56 1000.88 1004.29 1010.65" y="264.1" font-size="10.5" fill="#2a3f5f">77ALSa...HnS6 (Sybil) 13.4791 SOL Latest: 2026-01-15 21:27</text>
<rect x="1020" y="268.916" width="20" height="3.293" fill="rgba(239,68,68,0.9)"/>
<text class="nl" x="716.96 721.91 725.56 732.42 735.51 743.1 749.21 752.39 755.57 758.95 764.8 771.15 776.8 783.49 786.74 790.11 797.12 802.96 809.27 812.05 814.81 818.64 821.95 828.31 834.54 837.85 844.21 850.58 856.94 863.17 865.89 872.42 880.3 886.14 889.05 894.9 901.39 904.96 910.94 916.67 920.32 923.59 926.9 933.26 939.62 945.99 952.14 955.96 962.32 968.48 972.29 978.65 984.88 988.19 994.56 1000.88 1004.29 1010.65" y="274.06" font-size="10.5" fill="#2a3f5f">8JYfUa...x1qY (Sybil) 13.4791 SOL Latest: 2026-01-15 21:27</text>
<rect x="1020" y="278.876" width="20" height="3.293" fill="rgba(239,68,68,0.9)"/>
<text class="nl" x="713.9 721.79 727.59 730.45 738.58 744.34 749.75 752.13 755.31 758.65 766.84 770.91 777.26 783.49 786.74 790.11 797.12 802.96 809.27 812.05 814.81 818.64 821.95 828.31 834.54 837.85 844.21 850.58 856.94 863.17 865.89 872.42 880.3 886.14 889.05 894.9 901.39 904.96 910.94 916.67 920.32 923.59 926.9 933.26 939.62 945.99 952.14 955.96 962.32 968.48 972.29 978.65 984.88 988.19 994.56 1000.88 1004.29 1010.65" y="284.02" font-size="10.5" fill="#2a3f5f">HxjwdF...wr6b (Sybil) 13.4791 SOL Latest: 2026-01-15 21:27</text>
<rect x="1020" y="288.835" width="20" height="3.293" fill="rgba(59,130,246,0.9)"/>
<text class="nl" x="528.19 532.54 538.88 545.2 548.26 551.83 558.14 562.07 565.04 572.21 578.56 584.96 588.81 594.95 601.19 607.68 611.23 617.52 621.46 624.42 631.48 634.78 641.22 646.86 654.48 660.21 669.61 675.74 678.92 682.1 685.4 691.74 698.09 704.45 710.68 713.93 717.32 724.5 730.5 737.09 740.67 746.97 751 754.08 762.91 769.21 773.28 778.78 785.1 788.74 791.56 797.52 803.4 809.38 814.81 818.64 821.95 828.31 834.54 837.85 844.21 850.58 856.94 863.17 865.89 872.42 880.3 886.14 889.05 894.9 901.39 904.96 910.94 916.67 920.32 923.59 926.9 933.26 939.62 945.99 952.14 955.96 962.32 968.48 972.29 978.65 984.88 988.19 994.56 1000.88 1004.29 1010.65" y="293.98" font-size="10.5" fill="#2a3f5f">Jupiter Aggregator A 4xDsme...du71 (Router/Market/Fees) 13.4791 SOL Latest: 2026-01-15 21:27</text>
<rect x="1020" y="298.795" width="20" height="3.293" fill="rgba(239,68,68,0.9)"/>
<text class="nl" x="708.63 716.22 720.29 726.72 732.17 740.12 749.5 752.68 755.86 758.59 765.72 771.29 777.26 783.49 786.74 790.11 797.12 802.96 809.27 812.05 814.81 818.64 821.95 828.31 834.54 837.85 844.21 850.58 856.94 863.17 865.89 872.42 880.3 886.14 889.05 894.9 901.39 904.96 910.94 916.67 920.32 923.59 926.9 933.26 939.62 945.99 952.14 955.96 962.32 968.48 972.29 978.65 984.88 988.19 994.56 1000.88 1004.29 1010.65" y="303.94" font-size="10.5" fill="#2a3f5f">Cr6vUm...RLL8 (Sybil) 13.4791 SOL Latest: 2026-01-15 21:27</text>
<rect x="1020" y="308.755" width="20" height="3.293" fill="rgba(239,68,68,0.9)"/>
<text class="nl" x="711.52 717.87 723.62 730.28 735.21 742.25 749.17 752.34 755.52 758.71 764.85 771.1 777.36 783.49 786.74 790.11 797.12 802.96 809.27 812.05 814.81 818.64 821.95 828.31 834.54 837.85 844.21 850.58 856.94 863.17 865.89 872.42 880.3 886.14 889.05 894.9 901.39 904.96 910.94 916.67 920.32 923.59 926.9 933.26 939.62 945.99 952.14 955.96 962.32 968.48 972.29 978.65 984.88 988.19 994.56 1000.88 1004.29 1010.65" y="313.9" font-size="10.5" fill="#2a3f5f">ggEzRK...oe4e (Sybil) 13.4791 SOL Latest: 2026-01-15 21:27</text>
<rect x="1020" y="318.715" width="20" height="3.293" fill="rgba(239,68,68,0.9)"/>
<text class="nl" x="705.5 713.6 719.29 727.07 736.56 742.66 748.04 751.22 754.4 757.7 763.71 770.89 777.26 783.49 786.74 790.11 797.12 802.96 809.27 812.05 814.81 818.64 821.95 828.31 834.54 837.85 844.21 850.58 856.94 863.17 865.89 872.42 880.3 886.14 889.05 894.9 901.39 904.96 910.94 916.67 920.32 923.59 926.9 933.26 939.62 945.99 952.14 955.96 962.32 968.48 972.29 978.65 984.88 988.19 994.56 1000.88 1004.29 1010.65" y="323.86" font-size="10.5" fill="#2a3f5f">GaCmqz...pV19 (Sybil) 13.4791 SOL Latest: 2026-01-15 21:27</text>
<rect x="1020" y="328.675" width="20" height="3.293" fill="rgba(239,68,68,0.9)"/>
<text class="nl" x="606.23 611.78 617.18 622.68 628.74 634.96 638.07 645.87 652.12 658.43 661.13 667.44 673.18 679.48 683.42 686.61 692.83 699.05 701.61 708.29 714.42 717.73 723.7 729.67 736.1 741.95 748.31 754.54 757.72 760.9 764.2 770.8 774.48 780.8 783.49 786.74 790.11 797.12 802.96 809.27 812.05 814.81 818.64 821.95 828.31 834.54 837.85 844.21 850.58 856.94 863.17 865.89 872.42 880.3 886.14 889.05 894.9 901.39 904.96 910.94 916.67 920.32 923.59 926.9 933.26 939.62 945.99 952.14 955.96 962.32 968.48 972.29 978.65 984.88 988.19 994.56 1000.88 1004.29 1010.65" y="333.82" font-size="10.5" fill="#2a3f5f">Token Deployer on Pu 8L2y55...bt8j (Sybil) 13.4791 SOL Latest: 2026-01-15 21:27</text>
<rect x="1020" y="338.635" width="20" height="3.293" fill="rgba(59,130,246,0.9)"/>
<text class="nl" x="534.4 538.75 545.09 551.41 554.47 558.04 564.35 568.28 571.25 578.42 584.77 591.17 595.02 601.16 607.4 613.89 617.45 623.73 627.67 630.63 637.69 641 647.36 653.79 659.63 666.22 669.78 675.8 678.89 682.07 685.26 691.16 697.93 704.45 710.68 713.93 717.32 724.5 730.5 737.09 740.67 746.97 751 754.08 762.91 769.21 773.28 778.78 785.1 788.74 791.56 797.52 803.4 809.38 814.81 818.64 821.95 828.31 834.54 837.85 844.21 850.58 856.94 863.17 865.89 872.42 880.3 886.14 889.05 894.9 901.39 904.96 910.94 916.67 920.32 923.59 926.9 933.26 939.62 945.99 952.14 955.96 962.32 968.48 972.29 978.65 984.88 988.19 994.56 1000.88 1004.29 1010.65" y="343.78" font-size="10.5" fill="#2a3f5f">Jupiter Aggregator A 69yhto...aVT5 (Router/Market/Fees) 13.4791 SOL Latest: 2026-01-15 21:27</text>
<rect x="1020" y="348.594" width="20" height="3.293" fill="rgba(239,68,68,0.9)"/>
<text class="nl" x="705.03 712.84 720.52 727.4 734.09 741.95 744.64 747.82 751 753.96 760.87 771.02 776.43 783.49 786.74 790.11 797.12 802.96 809.27 812.05 814.81 818.64 821.95 828.31 834.54 837.85 844.21 850.58 856.94 863.17 865.89 872.42 880.3 886.14 889.05 894.9 901.39 904.96 910.94 916.67 920.32 923.59 926.9 933.26 939.62 945.99 952.14 955.96 962.32 968.48 972.29 978.65 984.88 988.19 994.56 1000.88 1004.29 1010.65" y="353.74" font-size="10.5" fill="#2a3f5f">GQEZDi...VWyA (Sybil) 13.4791 SOL Latest: 2026-01-15 21:27</text>
<rect x="1020" y="358.554" width="20" height="3.293" fill="rgba(239,68,68,0.9)"/>
<text class="nl" x="709.73 715.49 722.37 728.98 734.33 739.97 746.2 749.38 752.56 755.56 762.86 769.86 776.42 783.49 786.74 790.11 797.12 802.96 809.27 812.05 814.81 818.64 821.95 828.31 834.54 837.85 844.21 850.58 856.94 863.17 865.89 872.42 880.3 886.14 889.05 894.9 901.39 904.96 910.94 916.67 920.32 923.59 926.9 933.26 939.62 945.99 952.14 955.96 962.32 968.48 972.29 978.65 984.88 988.19 994.56 1000.88 1004.29 1010.65" y="363.7" font-size="10.5" fill="#2a3f5f">2EZsc3...NKZB (Sybil) 13.4791 SOL Latest: 2026-01-15 21:27</text>
<rect x="1020" y="368.514" width="20" height="3.293" fill="rgba(239,68,68,0.9)"/>
<text class="nl" x="712.18 719.98 725.92 731.33 735.98 742.57 751.94 755.12 758.3 761.6 767.62 774.77 776.84 783.49 786.74 790.11 797.12 802.96 809.27 812.05 814.81 818.64 821.95 828.31 834.54 837.85 844.21 850.58 856.94 863.17 865.89 872.42 880.3 886.14 889.05 894.9 901.39 904.96 910.94 916.67 920.32 923.59 926.9 933.26 939.62 945.99 952.14 955.96 962.32 968.48 972.29 978.65 984.88 988.19 994.56 1000.88 1004.29 1010.65" y="373.66" font-size="10.5" fill="#2a3f5f">HuTshm...pXiP (Sybil) 13.4791 SOL Latest: 2026-01-15 21:27</text>
<rect x="1020" y="378.474" width="20" height="3.293" fill="rgba(239,68,68,0.9)"/>
<text class="nl" x="711.5 718.41 724.76 731.19 737.08 740.73 748.88 752.06 755.24 758.54 764.14 770.92 777.27 783.49 786.74 790.11 797.12 802.96 809.27 812.05 814.81 818.64 821.95 828.31 834.54 837.85 844.21 850.58 856.94 863.17 865.89 872.42 880.3 886.14 889.05 894.9 901.39 904.96 910.94 916.67 920.32 923.59 926.9 933.26 939.62 945.99 952.14 955.96 962.32 968.48 972.29 978.65 984.88 988.19 994.56 1000.88 1004.29 1010.65" y="383.62" font-size="10.5" fill="#2a3f5f">EgbvrQ...uP3n (Sybil) 13.4791 SOL Latest: 2026-01-15 21:27</text>
<rect x="1020" y="388.434" width="20" height="3.293" fill="rgba(59,130,246,0.9)"/>
<text class="nl" x="534.42 538.77 545.11 551.43 554.49 558.06 564.37 568.3 571.27 578.44 584.79 591.19 595.04 601.18 607.42 613.91 617.47 623.75 627.69 630.65 637.71 641.02 646.82 654.35 660.78 666.62 672.93 675.62 678.8 681.98 685.01 689.92 697.1 702.91 710.68 713.93 717.32 724.5 730.5 737.09 740.67 746.97 751 754.08 762.91 769.21 773.28 778.78 785.1 788.74 791.56 797.52 803.4 809.38 814.81 818.64 821.95 828.31 834.54 837.85 844.21 850.58 856.94 863.17 865.89 872.42 880.3 886.14 889.05 894.9 901.39 904.96 910.94 916.67 920.32 923.59 926.9 933.26 939.62 945.99 952.14 955.96 962.32 968.48 972.29 978.65 984.88 988.19 994.56 1000.88 1004.29 1010.65" y="393.58" font-size="10.5" fill="#2a3f5f">Jupiter Aggregator A 3Cgvbi...sRoD (Router/Market/Fees) 13.4791 SOL Latest: 2026-01-15 21:27</text>
<rect x="1020" y="398.394" width="20" height="3.293" fill="rgba(59,130,246,0.9)"/>
<text class="nl" x="531.69 536.04 542.38 548.7 551.75 555.33 561.63 565.57 568.53 575.71 582.06 588.46 592.31 598.45 604.69 611.17 614.73 621.02 624.95 627.92 634.97 637.72 645.15 651.38 657.73 663.74 670.61 678.28 681.46 684.63 687.55 692.62 699.25 705.32 710.68 713.93 717.32 724.5 730.5 737.09 740.67 746.97 751 754.08 762.91 769.21 773.28 778.78 785.1 788.74 791.56 797.52 803.4 809.38 814.81 818.64 821.95 828.31 834.54 837.85 844.21 850.58 856.94 863.17 865.89 872.42 880.3 886.14 889.05 894.9 901.39 904.96 910.94 916.67 920.32 923.59 926.9 933.26 939.62 945.99 952.14 955.96 962.32 968.48 972.29 978.65 984.88 988.19 994.56 1000.88 1004.29 1010.65" y="403.54" font-size="10.5" fill="#2a3f5f">Jupiter Aggregator A CapuXN...LVps (Router/Market/Fees) 13.4791 SOL Latest: 2026-01-15 21:27</text>
<rect x="1020" y="408.353" width="20" height="3.293" fill="rgba(239,68,68,0.9)"/>
<text class="nl" x="709.11 714.98 722.03 728.27 734.52 740.87 747.09 750.26 753.44 756.79 764.18 770.36 777.27 783.49 786.74 790.11 797.12 802.96 809.27 812.05 814.81 818.64 821.95 828.31 834.54 837.85 844.21 850.58 856.94 863.17 865.89 872.42 880.3 886.14 889.05 894.9 901.39 904.96 910.94 916.67 920.32 923.59 926.9 933.26 939.62 945.99 952.14 955.96 962.32 968.48 972.29 978.65 984.88 988.19 994.56 1000.88 1004.29 1010.65" y="413.5" font-size="10.5" fill="#2a3f5f">4K3a2u...wPEh (Sybil) 13.4791 SOL Latest: 2026-01-15 21:27</text>
<rect x="1020" y="418.313" width="20" height="3.293" fill="rgba(239,68,68,0.9)"/>
<text class="nl" x="627.24 634.54 640.75 646.49 652.73 659.05 662.32 665.31 673.65 680.23 687.29 690.26 697.33 703.81 707.36 710.09 717.39 723.19 729.88 735.73 742.16 747.87 751.05 754.23 757.54 763.86 770.82 776.09 783.49 786.74 790.11 797.12 802.96 809.27 812.05 814.81 818.64 821.95 828.31 834.54 837.85 844.21 850.58 856.94 863.17 865.89 872.42 880.3 886.14 889.05 894.9 901.39 904.96 910.94 916.67 920.32 923.59 926.9 933.26 939.62 945.99 952.14 955.96 962.32 968.48 972.29 978.65 984.88 988.19 994.56 1000.88 1004.29 1010.65" y="423.46" font-size="10.5" fill="#2a3f5f">Raven: MEV Bot RaVenx...6ZxR (Sybil) 13.4791 SOL Latest: 2026-01-15 21:27</text>
<rect x="1020" y="428.273" width="20" height="3.293" fill="rgba(239,68,68,0.9)"/>
<text class="nl" x="698.35 705.76 714.03 720.46 725.83 734.04 740.26 743.44 746.62 750.16 759.9 769.4 775.34 783.49 786.74 790.11 797.12 802.96 809.27 812.05 814.81 818.64 821.95 828.31 834.54 837.85 844.21 850.58 856.94 863.17 865.89 872.42 880.3 886.14 889.05 894.9 901.39 904.96 910.94 916.67 920.32 923.59 926.9 933.26 939.62 945.99 952.14 955.96 962.32 968.48 972.29 978.65 984.88 988.19 994.56 1000.88 1004.29 1010.65" y="433.42" font-size="10.5" fill="#2a3f5f">HQbxGn...mmuQ (Sybil) 13.4791 SOL Latest: 2026-01-15 21:27</text>
<rect x="1020" y="438.233" width="20" height="3.293" fill="rgba(239,68,68,0.9)"/>
<text class="nl" x="709.38 717.18 723.61 729.46 735.23 741.56 747.79 750.97 754.15 757.16 764.86 771.1 777.36 783.49 786.74 790.11 797.12 802.96 809.27 812.05 814.81 818.64 821.95 828.31 834.54 837.85 844.21 850.58 856.94 863.17 865.89 872.42 880.3 886.14 889.05 894.9 901.39 904.96 910.94 916.67 920.32 923.59 926.9 933.26 939.62 945.99 952.14 955.96 962.32 968.48 972.29 978.65 984.88 988.19 994.56 1000.88 1004.29 1010.65" y="443.38" font-size="10.5" fill="#2a3f5f">Hby3Fd...Ha9e (Sybil) 13.4791 SOL Latest: 2026-01-15 21:27</text>
<rect x="1020" y="448.193" width="20" height="3.293" fill="rgba(239,68,68,0.9)"/>
<text class="nl" x="715.07 721.05 726.44 732.4 738.76 745 751.03 754.12 757.3 760.31 768.37 772.05 778.13 783.49 786.74 790.11 797.12 802.96 809.27 812.05 814.81 818.64 821.95 828.31 834.54 837.85 844.21 850.58 856.94 863.17 865.89 872.42 880.3 886.14 889.05 894.9 901.39 904.96 910.94 916.67 920.32 923.59 926.9 933.26 939.62 945.99 952.14 955.96 962.32 968.48 972.29 978.65 984.88 988.19 994.56 1000.88 1004.29 1010.65" y="453.34" font-size="10.5" fill="#2a3f5f">LkL97o...Ht9s (Sybil) 13.4791 SOL Latest: 2026-01-15 21:27</text>
<rect x="1020" y="458.153" width="20" height="3.293" fill="rgba(59,130,246,0.9)"/>
<text class="nl" x="532.92 537.27 543.61 549.93 552.98 556.56 562.86 566.8 569.76 576.94 583.29 589.69 593.54 599.68 605.92 612.4 615.96 622.25 626.18 629.15 636.2 639.31 646.62 653.25 661.04 667.36 670.18 676.41 679.59 682.77 685.37 692.19 698.62 704.46 710.68 713.93 717.32 724.5 730.5 737.09 740.67 746.97 751 754.08 762.91 769.21 773.28 778.78 785.1 788.74 791.56 797.52 803.4 809.38 814.81 818.64 821.95 828.31 834.54 837.85 844.21 850.58 856.94 863.17 865.89 872.42 880.3 886.14 889.05 894.9 901.39 904.96 910.94 916.67 920.32 923.59 926.9 933.26 939.62 945.99 952.14 955.96 962.32 968.48 972.29 978.65 984.88 988.19 994.56 1000.88 1004.29 1010.65" y="463.3" font-size="10.5" fill="#2a3f5f">Jupiter Aggregator A DSN3j1...Y6xg (Router/Market/Fees) 13.4791 SOL Latest: 2026-01-15 21:27</text>
<rect x="1020" y="468.112" width="20" height="3.293" fill="rgba(239,68,68,0.9)"/>
<text class="nl" x="709.42 716.57 725.33 732.07 734.9 740.67 746.9 750.07 753.25 756.56 762.88 769.78 775.82 783.49 786.74 790.11 797.12 802.96 809.27 812.05 814.81 818.64 821.95 828.31 834.54 837.85 844.21 850.58 856.94 863.17 865.89 872.42 880.3 886.14 889.05 894.9 901.39 904.96 910.94 916.67 920.32 923.59 926.9 933.26 939.62 945.99 952.14 955.96 962.32 968.48 972.29 978.65 984.88 988.19 994.56 1000.88 1004.29 1010.65" y="473.26" font-size="10.5" fill="#2a3f5f">EmPjkg...2Z4N (Sybil) 13.4791 SOL Latest: 2026-01-15 21:27</text>
<rect x="1020" y="478.072" width="20" height="3.293" fill="rgba(239,68,68,0.9)"/>
<text class="nl" x="705.49 712.13 719.6 726.21 733.25 739.71 746.93 749.93 753.11 756.41 762.18 768.82 776.07 783.49 786.74 790.11 797.12 802.96 809.27 812.05 814.81 818.64 821.95 828.31 834.54 837.85 844.21 850.58 856.94 863.17 865.89 872.42 880.3 886.14 889.05 894.9 901.39 904.96 910.94 916.67 920.32 923.59 926.9 933.26 939.62 945.99 952.14 955.96 962.32 968.48 972.29 978.65 984.88 988.19 994.56 1000.88 1004.29 1010.65" y="483.22" font-size="10.5" fill="#2a3f5f">SHARKR...gSHC (Sybil) 13.4791 SOL Latest: 2026-01-15 21:27</text>
<rect x="1020" y="488.032" width="20" height="3.293" fill="rgba(239,68,68,0.9)"/>
<text class="nl" x="709.07 715.43 721.77 728.12 734.21 744.37 750.6 753.78 756.96 759.86 768.1 770.92 777.27 783.49 786.74 790.11 797.12 802.96 809.27 812.05 814.81 818.64 821.95 828.31 834.54 837.85 844.21 850.58 856.94 863.17 865.89 872.42 880.3 886.14 889.05 894.9 901.39 904.96 910.94 916.67 920.32 923.59 926.9 933.26 939.62 945.99 952.14 955.96 962.32 968.48 972.29 978.65 984.88 988.19 994.56 1000.88 1004.29 1010.65" y="493.18" font-size="10.5" fill="#2a3f5f">9qn3W6...Qi9n (Sybil) 13.4791 SOL Latest: 2026-01-15 21:27</text>
<rect x="1020" y="497.992" width="20" height="3.293" fill="rgba(239,68,68,0.9)"/>
<text class="nl" x="714.06 720.41 726.3 734.56 738.53 743.39 747.62 750.8 753.98 757.27 763.61 769.57 777.27 783.49 786.74 790.11 797.12 802.96 809.27 812.05 814.81 818.64 821.95 828.31 834.54 837.85 844.21 850.58 856.94 863.17 865.89 872.42 880.3 886.14 889.05 894.9 901.39 904.96 910.94 916.67 920.32 923.59 926.9 933.26 939.62 945.99 952.14 955.96 962.32 968.48 972.29 978.65 984.88 988.19 994.56 1000.88 1004.29 1010.65" y="503.14" font-size="10.5" fill="#2a3f5f">7dGrdJ...uuUu (Sybil) 13.4791 SOL Latest: 2026-01-15 21:27</text>
<rect x="1020" y="507.952" width="20" height="3.293" fill="rgba(239,68,68,0.9)"/>
<text class="nl" x="708.41 713.86 721.61 729.36 737.14 743.06 748.78 751.95 755.13 758.44 764.79 771.13 777.37 783.49 786.74 790.11 797.12 802.96 809.27 812.05 814.81 818.64 821.95 828.31 834.54 837.85 844.21 850.58 856.94 863.17 865.89 872.42 880.3 886.14 889.05 894.9 901.39 904.96 910.94 916.67 920.32 923.59 926.9 933.26 939.62 945.99 952.14 955.96 962.32 968.48 972.29 978.65 984.88 988.19 994.56 1000.88 1004.29 1010.65" y="513.1" font-size="10.5" fill="#2a3f5f">xUwUxx...5nqa (Sybil) 13.4791 SOL Latest: 2026-01-15 21:27</text>
<rect x="1020" y="517.912" width="20" height="3.293" fill="rgba(59,130,246,0.9)"/>
<text class="nl" x="537.38 541.73 548.07 554.38 557.44 561.02 567.32 571.26 574.22 581.4 587.75 594.15 598 604.14 610.38 616.86 620.42 626.71 630.64 633.61 640.66 643.5 651.25 659.21 664.96 668.23 676.5 682.73 685.9 689.08 692.35 695.16 700.93 706.45 710.68 713.93 717.32 724.5 730.5 737.09 740.67 746.97 751 754.08 762.91 769.21 773.28 778.78 785.1 788.74 791.56 797.52 803.4 809.38 814.81 818.64 821.95 828.31 834.54 837.85 844.21 850.58 856.94 863.17 865.89 872.42 880.3 886.14 889.05 894.9 901.39 904.96 910.94 916.67 920.32 923.59 926.9 933.26 939.62 945.99 952.14 955.96 962.32 968.48 972.29 978.65 984.88 988.19 994.56 1000.88 1004.29 1010.65" y="523.06" font-size="10.5" fill="#2a3f5f">Jupiter Aggregator A GGztQq...jgSJ (Router/Market/Fees) 13.4791 SOL Latest: 2026-01-15 21:27</text>
<rect x="1020" y="527.871" width="20" height="3.293" fill="rgba(59,130,246,0.9)"/>
<text class="nl" x="530.66 535.01 541.35 547.67 550.73 554.3 560.61 564.54 567.51 574.68 581.03 587.43 591.28 597.42 603.66 610.15 613.71 619.99 623.93 626.89 633.95 637.26 643.58 646.12 656.27 662.29 668.9 676.12 679.12 682.3 684.9 691.39 698.65 703.89 710.68 713.93 717.32 724.5 730.5 737.09 740.67 746.97 751 754.08 762.91 769.21 773.28 778.78 785.1 788.74 791.56 797.52 803.4 809.38 814.81 818.64 821.95 828.31 834.54 837.85 844.21 850.58 856.94 863.17 865.89 872.42 880.3 886.14 889.05 894.9 901.39 904.96 910.94 916.67 920.32 923.59 926.9 933.26 939.62 945.99 952.14 955.96 962.32 968.48 972.29 978.65 984.88 988.19 994.56 1000.88 1004.29 1010.65" y="533.02" font-size="10.5" fill="#2a3f5f">Jupiter Aggregator A 7iWnBR...YBxE (Router/Market/Fees) 13.4791 SOL Latest: 2026-01-15 21:27</text>
<rect x="1020" y="537.831" width="20" height="3.293" fill="rgba(239,68,68,0.9)"/>
<text class="nl" x="709.98 716.33 722.64 729.19 735.71 742.56 748.78 751.96 755.14 758.45 764.1 770.91 777.26 783.49 786.74 790.11 797.12 802.96 809.27 812.05 814.81 818.64 821.95 828.31 834.54 837.85 844.21 850.58 856.94 863.17 865.89 872.42 880.3 886.14 889.05 894.9 901.39 904.96 910.94 916.67 920.32 923.59 926.9 933.26 939.62 945.99 952.14 955.96 962.32 968.48 972.29 978.65 984.88 988.19 994.56 1000.88 1004.29 1010.65" y="542.98" font-size="10.5" fill="#2a3f5f">5nZVAu...7Yn6 (Sybil) 13.4791 SOL Latest: 2026-01-15 21:27</text>
<rect x="1020" y="547.791" width="20" height="3.293" fill="rgba(239,68,68,0.9)"/>
<text class="nl" x="711.92 719.25 726.01 731.5 737.47 745.23 748.7 751.42 754.6 757.91 763.8 771.76 777.26 783.49 786.74 790.11 797.12 802.96 809.27 812.05 814.81 818.64 821.95 828.31 834.54 837.85 844.21 850.58 856.94 863.17 865.89 872.42 880.3 886.14 889.05 894.9 901.39 904.96 910.94 916.67 920.32 923.59 926.9 933.26 939.62 945.99 952.14 955.96 962.32 968.48 972.29 978.65 984.88 988.19 994.56 1000.88 1004.29 1010.65" y="552.94" font-size="10.5" fill="#2a3f5f">HKs6Ur...2Gzq (Sybil) 13.4791 SOL Latest: 2026-01-15 21:27</text>
<rect x="1020" y="557.751" width="20" height="3.293" fill="rgba(239,68,68,0.9)"/>
<text class="nl" x="708.13 714.48 720.26 727.21 734.74 740.54 747.95 751.13 754.31 757.3 764.84 770.36 775.82 783.49 786.74 790.11 797.12 802.96 809.27 812.05 814.81 818.64 821.95 828.31 834.54 837.85 844.21 850.58 856.94 863.17 865.89 872.42 880.3 886.14 889.05 894.9 901.39 904.96 910.94 916.67 920.32 923.59 926.9 933.26 939.62 945.99 952.14 955.96 962.32 968.48 972.29 978.65 984.88 988.19 994.56 1000.88 1004.29 1010.65" y="562.9" font-size="10.5" fill="#2a3f5f">2dRR9C...NzkN (Sybil) 13.4791 SOL Latest: 2026-01-15 21:27</text>
<rect x="1020" y="567.711" width="20" height="3.293" fill="rgba(239,68,68,0.9)"/>
<text class="nl" x="704.29 710.55 716.81 722.83 729.46 739.01 745.42 747.95 751.13 754.67 763.78 769.46 777.26 783.49 786.74 790.11 797.12 802.96 809.27 812.05 814.81 818.64 821.95 828.31 834.54 837.85 844.21 850.58 856.94 863.17 865.89 872.42 880.3 886.14 889.05 894.9 901.39 904.96 910.94 916.67 920.32 923.59 926.9 933.26 939.62 945.99 952.14 955.96 962.32 968.48 972.29 978.65 984.88 988.19 994.56 1000.88 1004.29 1010.65" y="572.86" font-size="10.5" fill="#2a3f5f">4e2AWV...mLHb (Sybil) 13.4791 SOL Latest: 2026-01-15 21:27</text>
<rect x="1020" y="577.671" width="20" height="3.293" fill="rgba(239,68,68,0.9)"/>
<text class="nl" x="700.47 708.25 717.72 724.6 730.64 739.29 746.89 749.98 753.16 756.46 762.83 768.78 776.58 783.49 786.74 790.11 797.12 802.96 809.27 812.05 814.81 818.64 821.95 828.31 834.54 837.85 844.21 850.58 856.94 863.17 865.89 872.42 880.3 886.14 889.05 894.9 901.39 904.96 910.94 916.67 920.32 923.59 926.9 933.26 939.62 945.99 952.14 955.96 962.32 968.48 972.29 978.65 984.88 988.19 994.56 1000.88 1004.29 1010.65" y="582.82" font-size="10.5" fill="#2a3f5f">CmZpMH...27QK (Sybil) 13.4791 SOL Latest: 2026-01-15 21:27</text>
<rect x="1020" y="587.631" width="20" height="3.293" fill="rgba(239,68,68,0.9)"/>
<text class="nl" x="713.11 719.43 724.91 729.26 735.28 742.14 749.2 752.38 755.56 758.86 764.94 774.7 779.26 783.49 786.74 790.11 797.12 802.96 809.27 812.05 814.81 818.64 821.95 828.31 834.54 837.85 844.21 850.58 856.94 863.17 865.89 872.42 880.3 886.14 889.05 894.9 901.39 904.96 910.94 916.67 920.32 923.59 926.9 933.26 939.62 945.99 952.14 955.96 962.32 968.48 972.29 978.65 984.88 988.19 994.56 1000.88 1004.29 1010.65" y="592.78" font-size="10.5" fill="#2a3f5f">8ZJhBB...gWeJ (Sybil) 13.4791 SOL Latest: 2026-01-15 21:27</text>
<rect x="1020" y="597.59" width="20" height="3.293" fill="rgba(239,68,68,0.9)"/>
<text class="nl" x="708.43 716.31 721.57 727.9 734.05 741.68 751.14 753.75 756.92 760.2 763.01 769.16 776.58 783.49 786.74 790.11 797.12 802.96 809.27 812.05 814.81 818.64 821.95 828.31 834.54 837.85 844.21 850.58 856.94 863.17 865.89 872.42 880.3 886.14 889.05 894.9 901.39 904.96 910.94 916.67 920.32 923.59 926.9 933.26 939.62 945.99 952.14 955.96 962.32 968.48 972.29 978.65 984.88 988.19 994.56 1000.88 1004.29 1010.65" y="602.74" font-size="10.5" fill="#2a3f5f">HvFdDW...jqDK (Sybil) 13.4791 SOL Latest: 2026-01-15 21:27</text>
<rect x="1020" y="607.55" width="20" height="3.293" fill="rgba(239,68,68,0.9)"/>
<text class="nl" x="719.78 727.73 731.76 734.18 740.15 746.39 752.51 755.68 758.86 762.13 764.37 771.7 777.26 783.49 786.74 790.11 797.12 802.96 809.27 812.05 814.81 818.64 821.95 828.31 834.54 837.85 844.21 850.58 856.94 863.17 865.89 872.42 880.3 886.14 889.05 894.9 901.39 904.96 910.94 916.67 920.32 923.59 926.9 933.26 939.62 945.99 952.14 955.96 962.32 968.48 972.29 978.65 984.88 988.19 994.56 1000.88 1004.29 1010.65" y="612.7" font-size="10.5" fill="#2a3f5f">DriL1a...jRyb (Sybil) 13.4791 SOL Latest: 2026-01-15 21:27</text>
<rect x="1020" y="617.51" width="20" height="3.293" fill="rgba(239,68,68,0.9)"/>
<text class="nl" x="706.96 714.62 722.24 727.79 735.59 741.33 748.13 751.3 754.48 757.04 763.56 769.14 774.67 783.49 786.74 790.11 797.12 802.96 809.27 812.05 814.81 818.64 821.95 828.31 834.54 837.85 844.21 850.58 856.94 863.17 865.89 872.42 880.3 886.14 889.05 894.9 901.39 904.96 910.94 916.67 920.32 923.59 926.9 933.26 939.62 945.99 952.14 955.96 962.32 968.48 972.29 978.65 984.88 988.19 994.56 1000.88 1004.29 1010.65" y="622.66" font-size="10.5" fill="#2a3f5f">GCvHhE...PzvM (Sybil) 13.4791 SOL Latest: 2026-01-15 21:27</text>
<rect x="1020" y="627.47" width="20" height="3.293" fill="rgba(239,68,68,0.9)"/>
<text class="nl" x="709.03 715.63 719.19 725.43 731.85 737.1 743.89 747.07 750.24 753.28 763.13 770.92 777.26 783.49 786.74 790.11 797.12 802.96 809.27 812.05 814.81 818.64 821.95 828.31 834.54 837.85 844.21 850.58 856.94 863.17 865.89 872.42 880.3 886.14 889.05 894.9 901.39 904.96 910.94 916.67 920.32 923.59 926.9 933.26 939.62 945.99 952.14 955.96 962.32 968.48 972.29 978.65 984.88 988.19 994.56 1000.88 1004.29 1010.65" y="632.62" font-size="10.5" fill="#2a3f5f">gtagyE...WNdd (Sybil) 13.4791 SOL Latest: 2026-01-15 21:27</text>
<rect x="1020" y="637.43" width="20" height="3.293" fill="rgba(239,68,68,0.9)"/>
<text class="nl" x="711.29 717.53 723.21 730.18 737.7 744.05 750.27 753.45 756.63 759.94 765.96 773.19 777.26 783.49 786.74 790.11 797.12 802.96 809.27 812.05 814.81 818.64 821.95 828.31 834.54 837.85 844.21 850.58 856.94 863.17 865.89 872.42 880.3 886.14 889.05 894.9 901.39 904.96 910.94 916.67 920.32 923.59 926.9 933.26 939.62 945.99 952.14 955.96 962.32 968.48 972.29 978.65 984.88 988.19 994.56 1000.88 1004.29 1010.65" y="642.58" font-size="10.5" fill="#2a3f5f">5oCR5h...9Vr2 (Sybil) 13.4791 SOL Latest: 2026-01-15 21:27</text>
<rect x="1020" y="647.39" width="20" height="3.293" fill="rgba(239,68,68,0.9)"/>
<text class="nl" x="703.18 709.14 717.46 720.6 727.48 734.79 741.7 744.88 748.06 751.1 760.99 771.15 777.1 783.49 786.74 790.11 797.12 802.96 809.27 812.05 814.81 818.64 821.95 828.31 834.54 837.85 844.21 850.58 856.94 863.17 865.89 872.42 880.3 886.14 889.05 894.9 901.39 904.96 910.94 916.67 920.32 923.59 926.9 933.26 939.62 945.99 952.14 955.96 962.32 968.48 972.29 978.65 984.88 988.19 994.56 1000.88 1004.29 1010.65" y="652.54" font-size="10.5" fill="#2a3f5f">2QfBNK...WW2T (Sybil) 13.4791 SOL Latest: 2026-01-15 21:27</text>
<rect x="1020" y="657.349" width="20" height="3.293" fill="rgba(59,130,246,0.9)"/>
<text class="nl" x="532.97 537.32 543.66 549.98 553.04 556.61 562.92 566.85 569.82 576.99 583.34 589.74 593.59 599.73 605.97 612.46 616.02 622.3 626.24 629.2 636.26 639.57 645.53 651.29 657.1 663.18 669.32 676.91 680.01 683.18 686.23 691.74 698.09 704.45 710.68 713.93 717.32 724.5 730.5 737.09 740.67 746.97 751 754.08 762.91 769.21 773.28 778.78 785.1 788.74 791.56 797.52 803.4 809.38 814.81 818.64 821.95 828.31 834.54 837.85 844.21 850.58 856.94 863.17 865.89 872.42 880.3 886.14 889.05 894.9 901.39 904.96 910.94 916.67 920.32 923.59 926.9 933.26 939.62 945.99 952.14 955.96 962.32 968.48 972.29 978.65 984.88 988.19 994.56 1000.88 1004.29 1010.65" y="662.5" font-size="10.5" fill="#2a3f5f">Jupiter Aggregator A 3LoAYH...zd76 (Router/Market/Fees) 13.4791 SOL Latest: 2026-01-15 21:27</text>
<rect x="1020" y="667.309" width="20" height="3.293" fill="rgba(239,68,68,0.9)"/>
<text class="nl" x="711.62 717.64 724.55 729.65 737.35 743.78 748.78 751.25 754.42 756.99 763.76 769.63 776.09 783.49 786.74 790.11 797.12 802.96 809.27 812.05 814.81 818.64 821.95 828.31 834.54 837.85 844.21 850.58 856.94 863.17 865.89 872.42 880.3 886.14 889.05 894.9 901.39 904.96 910.94 916.67 920.32 923.59 926.9 933.26 939.62 945.99 952.14 955.96 962.32 968.48 972.29 978.65 984.88 988.19 994.56 1000.88 1004.29 1010.65" y="672.46" font-size="10.5" fill="#2a3f5f">5XsUqy...PpKR (Sybil) 13.4791 SOL Latest: 2026-01-15 21:27</text>
<rect x="1020" y="677.269" width="20" height="3.293" fill="rgba(239,68,68,0.9)"/>
<text class="nl" x="718.18 724.62 730.46 736.72 742.56 748.89 751.43 754.61 757.78 760.76 766.53 770.89 777.26 783.49 786.74 790.11 797.12 802.96 809.27 812.05 814.81 818.64 821.95 828.31 834.54 837.85 844.21 850.58 856.94 863.17 865.89 872.42 880.3 886.14 889.05 894.9 901.39 904.96 910.94 916.67 920.32 923.59 926.9 933.26 939.62 945.99 952.14 955.96 962.32 968.48 972.29 978.65 984.88 988.19 994.56 1000.88 1004.29 1010.65" y="682.42" font-size="10.5" fill="#2a3f5f">3y2eTi...XJ71 (Sybil) 13.4791 SOL Latest: 2026-01-15 21:27</text>
<rect x="1020" y="687.229" width="20" height="3.293" fill="rgba(239,68,68,0.9)"/>
<text class="nl" x="708.45 714.85 717.58 724.6 734.1 740.36 746.49 749.66 752.84 756.01 761.24 769.05 777.26 783.49 786.74 790.11 797.12 802.96 809.27 812.05 814.81 818.64 821.95 828.31 834.54 837.85 844.21 850.58 856.94 863.17 865.89 872.42 880.3 886.14 889.05 894.9 901.39 904.96 910.94 916.67 920.32 923.59 926.9 933.26 939.62 945.99 952.14 955.96 962.32 968.48 972.29 978.65 984.88 988.19 994.56 1000.88 1004.29 1010.65" y="692.38" font-size="10.5" fill="#2a3f5f">7fPm7e...cQGq (Sybil) 13.4791 SOL Latest: 2026-01-15 21:27</text>
<rect x="1020" y="697.189" width="20" height="3.293" fill="rgba(239,68,68,0.9)"/>
<text class="nl" x="715.15 722.4 730.18 732.98 739.32 745.57 751.7 754.88 758.06 761.26 767.51 773.82 776.07 783.49 786.74 790.11 797.12 802.96 809.27 812.05 814.81 818.64 821.95 828.31 834.54 837.85 844.21 850.58 856.94 863.17 865.89 872.42 880.3 886.14 889.05 894.9 901.39 904.96 910.94 916.67 920.32 923.59 926.9 933.26 939.62 945.99 952.14 955.96 962.32 968.48 972.29 978.65 984.88 988.19 994.56 1000.88 1004.29 1010.65" y="702.34" font-size="10.5" fill="#2a3f5f">CHjnge...ehjC (Sybil) 13.4791 SOL Latest: 2026-01-15 21:27</text>
<rect x="1020" y="707.149" width="20" height="3.293" fill="rgba(59,130,246,0.9)"/>
<text class="nl" x="532.85 537.2 543.54 549.86 552.92 556.49 562.79 566.73 569.7 576.87 583.22 589.62 593.47 599.61 605.85 612.33 615.89 622.18 626.11 629.08 636.13 639.44 645.79 652.13 658.09 664.05 670.28 676.3 679.39 682.57 685.27 692.27 698.1 704.45 710.68 713.93 717.32 724.5 730.5 737.09 740.67 746.97 751 754.08 762.91 769.21 773.28 778.78 785.1 788.74 791.56 797.52 803.4 809.38 814.81 818.64 821.95 828.31 834.54 837.85 844.21 850.58 856.94 863.17 865.89 872.42 880.3 886.14 889.05 894.9 901.39 904.96 910.94 916.67 920.32 923.59 926.9 933.26 939.62 945.99 952.14 955.96 962.32 968.48 972.29 978.65 984.88 988.19 994.56 1000.88 1004.29 1010.65" y="712.3" font-size="10.5" fill="#2a3f5f">Jupiter Aggregator A 9nnLbo...Exn8 (Router/Market/Fees) 13.4791 SOL Latest: 2026-01-15 21:27</text>
<rect x="1020" y="717.108" width="20" height="3.293" fill="rgba(59,130,246,0.9)"/>
<text class="nl" x="533.04 537.38 543.73 550.04 553.1 556.68 562.98 566.91 569.88 577.06 583.41 589.81 593.66 599.8 606.03 612.52 616.08 622.36 626.3 629.27 636.32 639.16 646.63 653.41 659.18 666.36 669.65 677.23 680.41 683.58 686.88 693.03 700.97 704.45 710.68 713.93 717.32 724.5 730.5 737.09 740.67 746.97 751 754.08 762.91 769.21 773.28 778.78 785.1 788.74 791.56 797.52 803.4 809.38 814.81 818.64 821.95 828.31 834.54 837.85 844.21 850.58 856.94 863.17 865.89 872.42 880.3 886.14 889.05 894.9 901.39 904.96 910.94 916.67 920.32 923.59 926.9 933.26 939.62 945.99 952.14 955.96 962.32 968.48 972.29 978.65 984.88 988.19 994.56 1000.88 1004.29 1010.65" y="722.26" font-size="10.5" fill="#2a3f5f">Jupiter Aggregator A GP8StU...nDf1 (Router/Market/Fees) 13.4791 SOL Latest: 2026-01-15 21:27</text>
<rect x="1020" y="727.068" width="20" height="3.293" fill="rgba(239,68,68,0.9)"/>
<text class="nl" x="708.95 715.31 721.66 727.45 735.07 740.91 747.14 750.32 753.5 756.8 763.16 769.56 777.77 783.49 786.74 790.11 797.12 802.96 809.27 812.05 814.81 818.64 821.95 828.31 834.54 837.85 844.21 850.58 856.94 863.17 865.89 872.42 880.3 886.14 889.05 894.9 901.39 904.96 910.94 916.67 920.32 923.59 926.9 933.26 939.62 945.99 952.14 955.96 962.32 968.48 972.29 978.65 984.88 988.19 994.56 1000.88 1004.29 1010.65" y="732.21" font-size="10.5" fill="#2a3f5f">41uCv6...d5wx (Sybil) 13.4791 SOL Latest: 2026-01-15 21:27</text>
<rect x="1020" y="737.028" width="20" height="3.293" fill="rgba(239,68,68,0.9)"/>
<text class="nl" x="710.11 715.76 722.16 728.08 735.05 738.53 745.33 748.51 751.69 754.99 761.34 767.43 776.84 783.49 786.74 790.11 797.12 802.96 809.27 812.05 814.81 818.64 821.95 828.31 834.54 837.85 844.21 850.58 856.94 863.17 865.89 872.42 880.3 886.14 889.05 894.9 901.39 904.96 910.94 916.67 920.32 923.59 926.9 933.26 939.62 945.99 952.14 955.96 962.32 968.48 972.29 978.65 984.88 988.19 994.56 1000.88 1004.29 1010.65" y="742.17" font-size="10.5" fill="#2a3f5f">8YTErS...h6WP (Sybil) 13.4791 SOL Latest: 2026-01-15 21:27</text>
<rect x="1020" y="746.988" width="20" height="3.293" fill="rgba(239,68,68,0.9)"/>
<text class="nl" x="707.52 715.18 722.31 729.99 736.91 743.34 748.35 750.81 753.99 757.29 763.24 771.51 777.27 783.49 786.74 790.11 797.12 802.96 809.27 812.05 814.81 818.64 821.95 828.31 834.54 837.85 844.21 850.58 856.94 863.17 865.89 872.42 880.3 886.14 889.05 894.9 901.39 904.96 910.94 916.67 920.32 923.59 926.9 933.26 939.62 945.99 952.14 955.96 962.32 968.48 972.29 978.65 984.88 988.19 994.56 1000.88 1004.29 1010.65" y="752.13" font-size="10.5" fill="#2a3f5f">GCQE8y...gQqF (Sybil) 13.4791 SOL Latest: 2026-01-15 21:27</text>
<rect x="1020" y="756.948" width="20" height="3.293" fill="rgba(239,68,68,0.9)"/>
<text class="nl" x="708.84 716.16 723.53 730.71 736.77 742.26 748.48 751.66 754.84 757.81 764.99 771.42 777.26 783.49 786.74 790.11 797.12 802.96 809.27 812.05 814.81 818.64 821.95 828.31 834.54 837.85 844.21 850.58 856.94 863.17 865.89 872.42 880.3 886.14 889.05 894.9 901.39 904.96 910.94 916.67 920.32 923.59 926.9 933.26 939.62 945.99 952.14 955.96 962.32 968.48 972.29 978.65 984.88 988.19 994.56 1000.88 1004.29 1010.65" y="762.09" font-size="10.5" fill="#2a3f5f">UUAhsp...V8yd (Sybil) 13.4791 SOL Latest: 2026-01-15 21:27</text>
<rect x="1020" y="766.908" width="20" height="3.293" fill="rgba(239,68,68,0.9)"/>
<text class="nl" x="713.03 719.38 725.16 732.34 737.76 744.66 747.35 750.53 753.71 757.02 763.42 771.28 776.43 783.49 786.74 790.11 797.12 802.96 809.27 812.05 814.81 818.64 821.95 828.31 834.54 837.85 844.21 850.58 856.94 863.17 865.89 872.42 880.3 886.14 889.05 894.9 901.39 904.96 910.94 916.67 920.32 923.59 926.9 933.26 939.62 945.99 952.14 955.96 962.32 968.48 972.29 978.65 984.88 988.19 994.56 1000.88 1004.29 1010.65" y="772.05" font-size="10.5" fill="#2a3f5f">7qRoSi...6wsX (Sybil) 13.4791 SOL Latest: 2026-01-15 21:27</text>
<rect x="1020" y="776.867" width="20" height="3.293" fill="rgba(239,68,68,0.9)"/>
<text class="nl" x="714.1 721.34 728.66 734.19 736.45 742.58 746.81 749.99 753.17 756.22 761.77 765.48 774.67 783.49 786.74 790.11 797.12 802.96 809.27 812.05 814.81 818.64 821.95 828.31 834.54 837.85 844.21 850.58 856.94 863.17 865.89 872.42 880.3 886.14 889.05 894.9 901.39 904.96 910.94 916.67 920.32 923.59 926.9 933.26 939.62 945.99 952.14 955.96 962.32 968.48 972.29 978.65 984.88 988.19 994.56 1000.88 1004.29 1010.65" y="782.01" font-size="10.5" fill="#2a3f5f">HRyjCJ...zfmM (Sybil) 13.4791 SOL Latest: 2026-01-15 21:27</text>
<rect x="1020" y="786.827" width="20" height="3.293" fill="rgba(239,68,68,0.9)"/>
<text class="nl" x="706.36 713.33 720.44 728.72 735.07 741.47 749.02 751.74 754.92 758.22 764.57 770.82 776.58 783.49 786.74 790.11 797.12 802.96 809.27 812.05 814.81 818.64 821.95 828.31 834.54 837.85 844.21 850.58 856.94 863.17 865.89 872.42 880.3 886.14 889.05 894.9 901.39 904.96 910.94 916.67 920.32 923.59 926.9 933.26 939.62 945.99 952.14 955.96 962.32 968.48 972.29 978.65 984.88 988.19 994.56 1000.88 1004.29 1010.65" y="791.97" font-size="10.5" fill="#2a3f5f">CRQd5w...u7aK (Sybil) 13.4791 SOL Latest: 2026-01-15 21:27</text>
<rect x="1020" y="796.787" width="20" height="3.293" fill="rgba(239,68,68,0.9)"/>
<text class="nl" x="705.51 711.29 718.89 724.73 731.07 737.66 747.03 750.21 753.39 756.41 763.82 769.48 777.26 783.49 786.74 790.11 797.12 802.96 809.27 812.05 814.81 818.64 821.95 828.31 834.54 837.85 844.21 850.58 856.94 863.17 865.89 872.42 880.3 886.14 889.05 894.9 901.39 904.96 910.94 916.67 920.32 923.59 926.9 933.26 939.62 945.99 952.14 955.96 962.32 968.48 972.29 978.65 984.88 988.19 994.56 1000.88 1004.29 1010.65" y="801.93" font-size="10.5" fill="#2a3f5f">4Rvgum...HLNb (Sybil) 13.4791 SOL Latest: 2026-01-15 21:27</text>
<rect x="1020" y="806.747" width="20" height="3.293" fill="rgba(239,68,68,0.9)"/>
<text class="nl" x="713.68 716.49 722.73 728.87 734.72 742.88 748.9 751.99 755.17 758.46 764.11 770.92 777.26 783.49 786.74 790.11 797.12 802.96 809.27 812.05 814.81 818.64 821.95 828.31 834.54 837.85 844.21 850.58 856.94 863.17 865.89 872.42 880.3 886.14 889.05 894.9 901.39 904.96 910.94 916.67 920.32 923.59 926.9 933.26 939.62 945.99 952.14 955.96 962.32 968.48 972.29 978.65 984.88 988.19 994.56 1000.88 1004.29 1010.65" y="811.89" font-size="10.5" fill="#2a3f5f">j1oeQo...nYbd (Sybil) 13.4791 SOL Latest: 2026-01-15 21:27</text>
<rect x="1020" y="816.707" width="20" height="3.293" fill="rgba(59,130,246,0.9)"/>
<text class="nl" x="533.01 537.36 543.7 550.02 553.08 556.65 562.96 566.89 569.86 577.03 583.38 589.78 593.63 599.77 606.01 612.5 616.05 622.34 626.28 629.24 636.29 639.6 645.65 654 660.05 665.52 672.46 678.69 681.87 685.04 687.79 695.3 698.11 704.46 710.68 713.93 717.32 724.5 730.5 737.09 740.67 746.97 751 754.08 762.91 769.21 773.28 778.78 785.1 788.74 791.56 797.52 803.4 809.38 814.81 818.64 821.95 828.31 834.54 837.85 844.21 850.58 856.94 863.17 865.89 872.42 880.3 886.14 889.05 894.9 901.39 904.96 910.94 916.67 920.32 923.59 926.9 933.26 939.62 945.99 952.14 955.96 962.32 968.48 972.29 978.65 984.88 988.19 994.56 1000.88 1004.29 1010.65" y="821.85" font-size="10.5" fill="#2a3f5f">Jupiter Aggregator A 2MFoS3...Cj3h (Router/Market/Fees) 13.4791 SOL Latest: 2026-01-15 21:27</text>
</g>
</g>
<text class="ga" x="59.58 70.09 74.01 82.51 90.53 95.54 104.36 109.87 113.68 122.16 130.65 139.53 148.37 152.3 161.18 169.89 173.7 182.52 186.3 195.09 206.3 210.85 215.35 224.03 233.72 243.33" y="50" font-size="14.7" fill="#2a3f5f">Cluster Funding Flow (PRE)</text>
<rect x="101.5" y="116.5" width="693.36" height="17" fill="rgba(255,255,255,0.85)" stroke="#e5e7eb" stroke-width="1"/>
<text class="ga" x="102.93 113.53 120.97 124.34 131.92 135.85 139.49 151.16 158.32 163.08 170.55 173.92 181.53 189 192.29 201.3 204.67 211.95 218.83 223.12 230.68 235.4 238.9 246.15 253.11 256.34 260.31 267.79 271.6 275.64 279.46 283.27 286.85 295.43 298.8 306.29 313.76 317.69 320.96 329.58 336.78 344.69 348.98 356.55 361.38 365.08 375.68 383.23 388.12 394.72 402.3 406.56 410.6 414.42 417.92 425.03 428.4 436.01 443.92 448.18 452.14 459.72 463.09 470.58 478.05 481.98 485.05 492.82 500.39 504.68 512.17 520.08 524.45 527.69 535.14 538.36 542.4 546.22 549.34 556.6 563.26 566.6 569.83 577.36 586.76 590.36 594.01 605.68 612.84 617.6 625.07 628.43 636.05 643.51 647.56 651.37 654.65 663.29 670.52 678.1 682.03 685.29 693.7 700.71 708.29 711.62 714.85 718.89 722.7 725.78 733.73 736.97 744.6 751.49 755.42 758.69 767 774.49 782.26" y="129" font-size="12.6" fill="#374151">Main: Warning Cluster Lvl 2  |  Blue: Router/Market | Light blue: Potential | Yellow: Warning | Red: Sybil | Pink: Spam</text>
</svg>
</body></html>
